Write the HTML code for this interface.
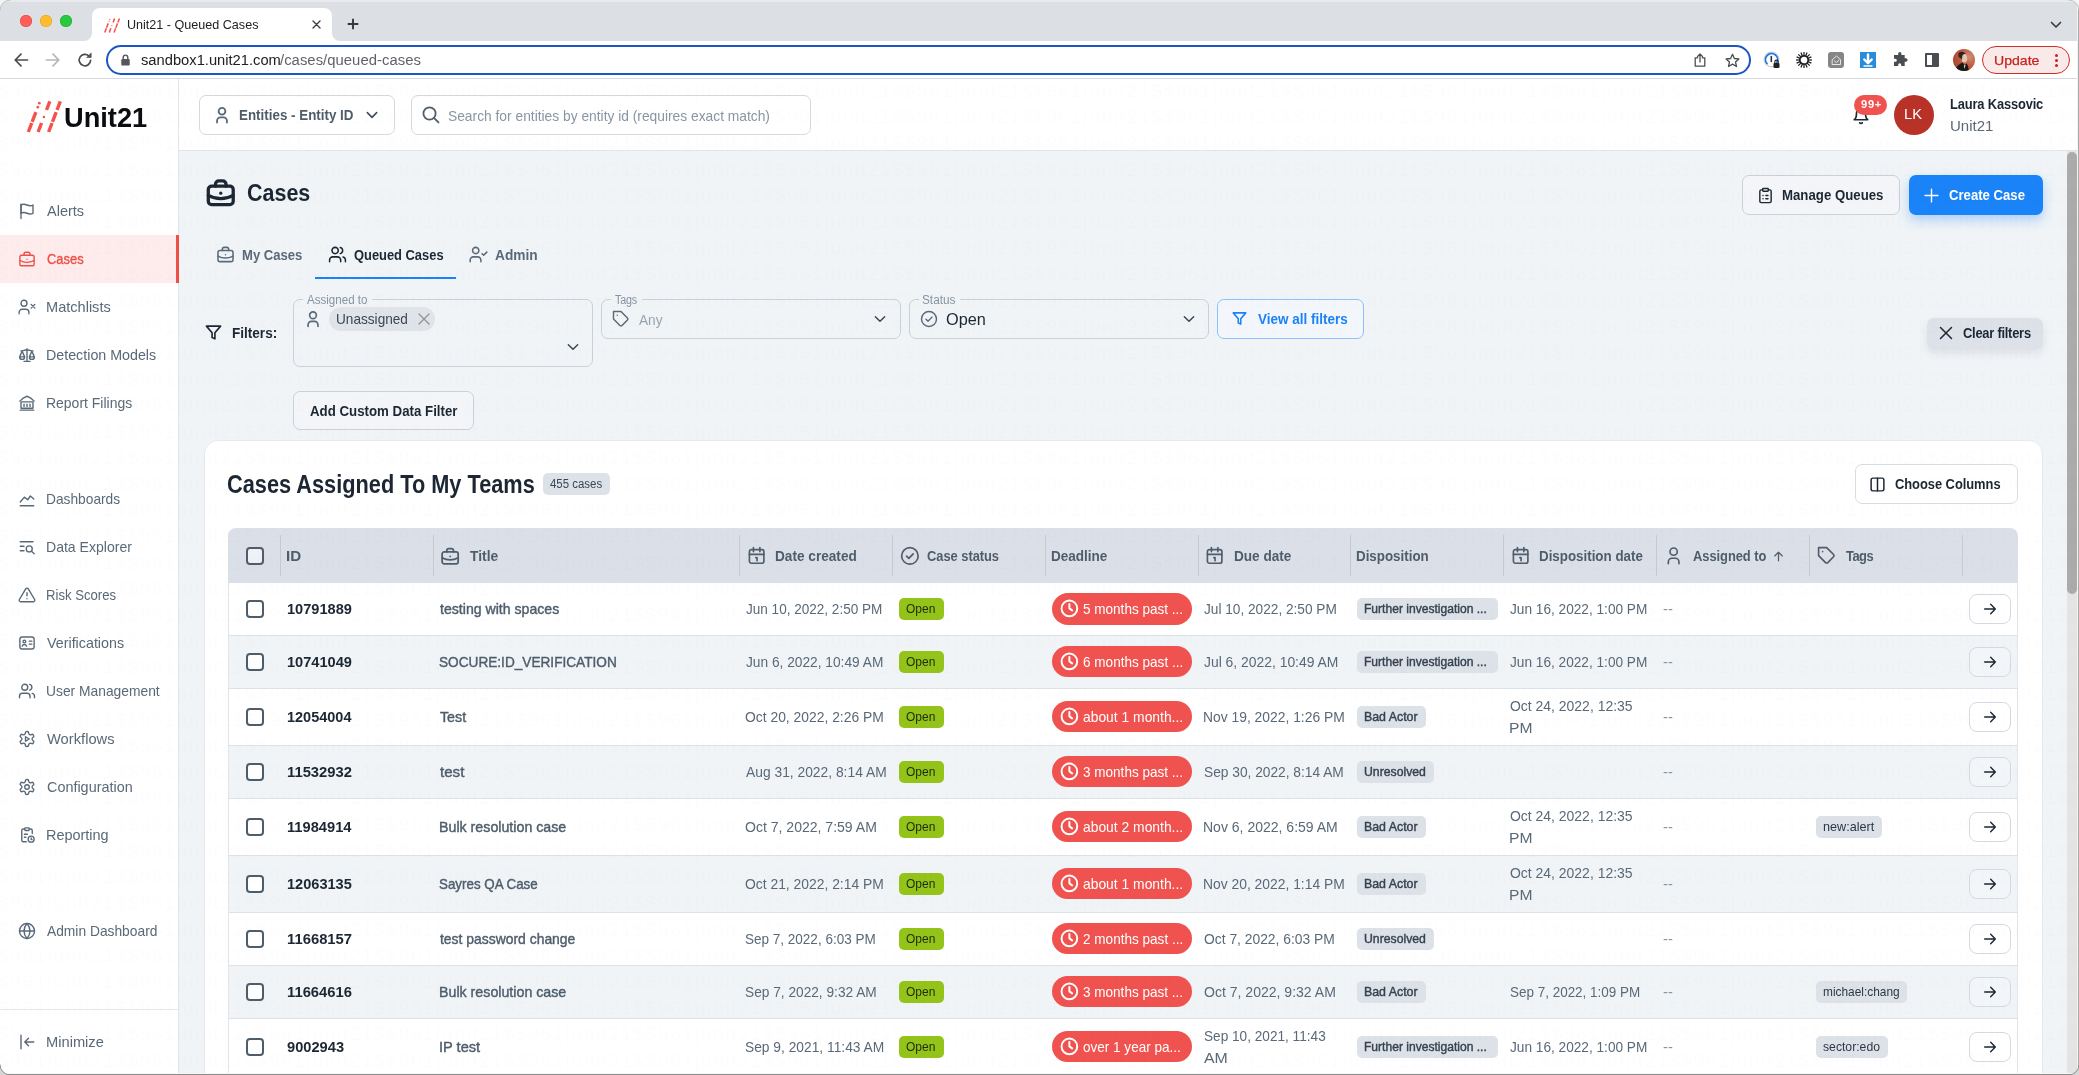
<!DOCTYPE html>
<html lang="en"><head><meta charset="utf-8"><title>Unit21 - Queued Cases</title>
<style>
html,body{margin:0;padding:0;}
body{width:2079px;height:1075px;overflow:hidden;position:relative;background:#f0f4f7;
 font-family:"Liberation Sans",sans-serif;-webkit-font-smoothing:antialiased;}
#root{position:absolute;left:0;top:0;width:2079px;height:1075px;overflow:hidden;will-change:transform;}
.t{position:absolute;white-space:nowrap;transform-origin:0 50%;}
svg{overflow:visible;}
.wm{position:absolute;left:-75.900px;top:78px;width:2300px;height:1000px;overflow:hidden;pointer-events:none;
 font-size:19px;line-height:26.200px;letter-spacing:1.662px;color:rgba(20,40,70,0.0105);white-space:nowrap;}
</style></head>
<body>
<div id="root">
<div id="app-bg" style="position:absolute;left:179px;top:151px;width:1900px;height:924px;background:#f0f4f7"></div>
<nav id="sidebar"><div style="position:absolute;left:0px;top:79px;width:178px;height:996px;background:#fff;"></div>
<div style="position:absolute;left:178px;top:79px;width:1px;height:996px;background:#e3e7ec;"></div>
<svg style="position:absolute;left:20px;top:96px;" width="50" height="40" viewBox="0 0 50 40" fill="none" stroke="#f4524b" stroke-width="3.4" stroke-linecap="butt" stroke-linejoin="round"><path d="M8.30 36.00L11.74 27.00"/><path d="M12.16 25.90L15.87 16.20"/><circle cx="17.79" cy="11.20" r="1.35" fill="#f4524b" stroke="none"/><circle cx="19.32" cy="7.20" r="1.35" fill="#f4524b" stroke="none"/><path d="M18.10 36.00L21.54 27.00"/><circle cx="23.88" cy="20.90" r="1.25" fill="#f4524b" stroke="none"/><path d="M26.52 14.00L29.80 5.40"/><path d="M28.60 36.00L32.04 27.00"/><path d="M32.46 25.90L36.17 16.20"/><path d="M37.02 14.00L40.30 5.40"/></svg>
<span class="t" id="t1" style="left:64.27px;top:98.60px;font-size:27px;line-height:38px;font-weight:700;color:#0b0d10;letter-spacing:0.000px;transform:scaleX(1.0080);">Unit21</span>
<svg style="position:absolute;left:18.3px;top:201.8px;" width="18" height="18" viewBox="0 0 24 24" fill="none" stroke="#5a6978" stroke-width="1.85" stroke-linecap="round" stroke-linejoin="round"><path d="M4 15s1-1 4-1 5 2 8 2 4-1 4-1V4s-1 1-4 1-5-2-8-2-4 1-4 1z"/><path d="M4 22V3"/></svg>
<span class="t" id="t2" style="left:47.47px;top:200.30px;font-size:15px;line-height:21px;font-weight:400;color:#5a6978;letter-spacing:0.000px;transform:scaleX(0.9663);">Alerts</span>
<div style="position:absolute;left:0px;top:235px;width:176px;height:47.5px;background:#fdeceb;"></div>
<div style="position:absolute;left:176px;top:235px;width:3px;height:47.5px;background:#ee4f47;"></div>
<svg style="position:absolute;left:18.3px;top:249.8px;" width="18" height="18" viewBox="0 0 24 24" fill="none" stroke="#ee4f47" stroke-width="1.85" stroke-linecap="round" stroke-linejoin="round"><rect x="2.5" y="7" width="19" height="14" rx="2.5"/><path d="M16 7V5.5A2.5 2.5 0 0 0 13.500 3h-3A2.5 2.500 0 0 0 8 5.500V7"/><path d="M2.500 14c3 1.700 6.200 2.500 9.500 2.500s6.500-.8 9.500-2.500"/><path d="M12 12.300h.01"/></svg>
<span class="t" id="t3" style="left:46.84px;top:248.30px;font-size:15px;line-height:21px;font-weight:400;color:#ee4f47;letter-spacing:0.000px;transform:scaleX(0.8611);-webkit-text-stroke:0.350px #ee4f47;">Cases</span>
<svg style="position:absolute;left:18.3px;top:297.8px;" width="18" height="18" viewBox="0 0 24 24" fill="none" stroke="#5a6978" stroke-width="1.85" stroke-linecap="round" stroke-linejoin="round"><path d="M14.500 21v-2a4 4 0 0 0-4-4h-5a4 4 0 0 0-4 4v2"/><circle cx="8" cy="7" r="4"/><path d="M17.500 8.500l5 5M22.500 8.500l-5 5"/></svg>
<span class="t" id="t4" style="left:46.31px;top:296.30px;font-size:15px;line-height:21px;font-weight:400;color:#5a6978;letter-spacing:0.000px;transform:scaleX(0.9705);">Matchlists</span>
<svg style="position:absolute;left:18.3px;top:345.8px;" width="18" height="18" viewBox="0 0 24 24" fill="none" stroke="#5a6978" stroke-width="1.85" stroke-linecap="round" stroke-linejoin="round"><path d="M12 3.500v17M8 20.500h8M4 6.500c3 0 5-1.500 8-1.500s5 1.500 8 1.500"/><path d="M5.500 7l-3.300 7.500h6.600zM2.200 14.500a3.300 3.300 0 0 0 6.600 0"/><path d="M18.500 7l-3.300 7.500h6.600zM15.200 14.500a3.300 3.300 0 0 0 6.600 0"/></svg>
<span class="t" id="t5" style="left:46.33px;top:344.30px;font-size:15px;line-height:21px;font-weight:400;color:#5a6978;letter-spacing:0.000px;transform:scaleX(0.9506);">Detection Models</span>
<svg style="position:absolute;left:18.3px;top:393.8px;" width="18" height="18" viewBox="0 0 24 24" fill="none" stroke="#5a6978" stroke-width="1.85" stroke-linecap="round" stroke-linejoin="round"><path d="M2.500 9.500C5 6.500 8.500 4 12 3c3.500 1 7 3.500 9.500 6.500"/><path d="M3 21.500h18"/><rect x="4" y="10.500" width="16" height="8.500" rx="0.500"/><path d="M8 13.500v3M12 13.500v3M16 13.500v3"/></svg>
<span class="t" id="t6" style="left:46.35px;top:392.30px;font-size:15px;line-height:21px;font-weight:400;color:#5a6978;letter-spacing:0.000px;transform:scaleX(0.9309);">Report Filings</span>
<svg style="position:absolute;left:18.3px;top:489.8px;" width="18" height="18" viewBox="0 0 24 24" fill="none" stroke="#5a6978" stroke-width="1.85" stroke-linecap="round" stroke-linejoin="round"><path d="M3 21h18"/><path d="M3 16l5.500-6.500 4.500 3.500 3.500-5 4.500 4"/></svg>
<span class="t" id="t7" style="left:46.37px;top:488.30px;font-size:15px;line-height:21px;font-weight:400;color:#5a6978;letter-spacing:0.000px;transform:scaleX(0.9164);">Dashboards</span>
<svg style="position:absolute;left:18.3px;top:537.8px;" width="18" height="18" viewBox="0 0 24 24" fill="none" stroke="#5a6978" stroke-width="1.85" stroke-linecap="round" stroke-linejoin="round"><path d="M3 5h17M3 11h5M3 17h5"/><circle cx="15" cy="14.500" r="4"/><path d="M18 17.500l3.500 3.500"/></svg>
<span class="t" id="t8" style="left:46.35px;top:536.30px;font-size:15px;line-height:21px;font-weight:400;color:#5a6978;letter-spacing:0.000px;transform:scaleX(0.9364);">Data Explorer</span>
<svg style="position:absolute;left:18.3px;top:585.8px;" width="18" height="18" viewBox="0 0 24 24" fill="none" stroke="#5a6978" stroke-width="1.85" stroke-linecap="round" stroke-linejoin="round"><path d="M10.290 3.860L1.820 18a2 2 0 0 0 1.710 3h16.940a2 2 0 0 0 1.710-3L13.710 3.860a2 2 0 0 0-3.420 0z"/><path d="M12 9v4M12 17h.01"/></svg>
<span class="t" id="t9" style="left:46.42px;top:584.30px;font-size:15px;line-height:21px;font-weight:400;color:#5a6978;letter-spacing:0.000px;transform:scaleX(0.8753);">Risk Scores</span>
<svg style="position:absolute;left:18.3px;top:633.8px;" width="18" height="18" viewBox="0 0 24 24" fill="none" stroke="#5a6978" stroke-width="1.85" stroke-linecap="round" stroke-linejoin="round"><rect x="2.500" y="4" width="19" height="16" rx="3"/><circle cx="8.500" cy="10" r="1.800"/><path d="M5.500 16.200c.6-1.500 1.700-2.200 3-2.200s2.400.7 3 2.200M15 9.500h3.500M15 13.500h3.500"/></svg>
<span class="t" id="t10" style="left:47.44px;top:632.30px;font-size:15px;line-height:21px;font-weight:400;color:#5a6978;letter-spacing:0.000px;transform:scaleX(0.9531);">Verifications</span>
<svg style="position:absolute;left:18.3px;top:681.8px;" width="18" height="18" viewBox="0 0 24 24" fill="none" stroke="#5a6978" stroke-width="1.85" stroke-linecap="round" stroke-linejoin="round"><path d="M16 21v-2a4 4 0 0 0-4-4H6a4 4 0 0 0-4 4v2"/><circle cx="9" cy="7" r="4"/><path d="M22 21v-2a4 4 0 0 0-3-3.870M15.500 3.130a4 4 0 0 1 0 7.750"/></svg>
<span class="t" id="t11" style="left:46.43px;top:680.30px;font-size:15px;line-height:21px;font-weight:400;color:#5a6978;letter-spacing:0.000px;transform:scaleX(0.9211);">User Management</span>
<svg style="position:absolute;left:18.3px;top:729.8px;" width="18" height="18" viewBox="0 0 24 24" fill="none" stroke="#5a6978" stroke-width="1.85" stroke-linecap="round" stroke-linejoin="round"><path d="M12.220 2h-.44a2 2 0 0 0-2 2v.18a2 2 0 0 1-1 1.730l-.43.250a2 2 0 0 1-2 0l-.15-.080a2 2 0 0 0-2.730.730l-.22.380a2 2 0 0 0 .73 2.730l.15.100a2 2 0 0 1 1 1.720v.510a2 2 0 0 1-1 1.740l-.15.090a2 2 0 0 0-.73 2.730l.22.380a2 2 0 0 0 2.730.730l.15-.080a2 2 0 0 1 2 0l.43.250a2 2 0 0 1 1 1.730V20a2 2 0 0 0 2 2h.44a2 2 0 0 0 2-2v-.180a2 2 0 0 1 1-1.730l.43-.250a2 2 0 0 1 2 0l.15.080a2 2 0 0 0 2.730-.730l.22-.390a2 2 0 0 0-.73-2.730l-.15-.080a2 2 0 0 1-1-1.740v-.500a2 2 0 0 1 1-1.740l.15-.090a2 2 0 0 0 .73-2.730l-.22-.380a2 2 0 0 0-2.730-.730l-.15.080a2 2 0 0 1-2 0l-.43-.250a2 2 0 0 1-1-1.730V4a2 2 0 0 0-2-2z"/><path d="M10 9l5 3-5 3z"/></svg>
<span class="t" id="t12" style="left:47.44px;top:728.30px;font-size:15px;line-height:21px;font-weight:400;color:#5a6978;letter-spacing:0.000px;transform:scaleX(0.9810);">Workflows</span>
<svg style="position:absolute;left:18.3px;top:777.8px;" width="18" height="18" viewBox="0 0 24 24" fill="none" stroke="#5a6978" stroke-width="1.85" stroke-linecap="round" stroke-linejoin="round"><path d="M12.220 2h-.44a2 2 0 0 0-2 2v.18a2 2 0 0 1-1 1.730l-.43.250a2 2 0 0 1-2 0l-.15-.080a2 2 0 0 0-2.730.730l-.22.380a2 2 0 0 0 .73 2.730l.15.100a2 2 0 0 1 1 1.720v.510a2 2 0 0 1-1 1.740l-.15.090a2 2 0 0 0-.73 2.730l.22.380a2 2 0 0 0 2.730.730l.15-.080a2 2 0 0 1 2 0l.43.250a2 2 0 0 1 1 1.730V20a2 2 0 0 0 2 2h.44a2 2 0 0 0 2-2v-.180a2 2 0 0 1 1-1.730l.43-.250a2 2 0 0 1 2 0l.15.080a2 2 0 0 0 2.730-.730l.22-.390a2 2 0 0 0-.73-2.730l-.15-.080a2 2 0 0 1-1-1.740v-.500a2 2 0 0 1 1-1.740l.15-.090a2 2 0 0 0 .73-2.730l-.22-.380a2 2 0 0 0-2.730-.730l-.15.080a2 2 0 0 1-2 0l-.43-.250a2 2 0 0 1-1-1.730V4a2 2 0 0 0-2-2z"/><circle cx="12" cy="12" r="3"/></svg>
<span class="t" id="t13" style="left:46.77px;top:776.30px;font-size:15px;line-height:21px;font-weight:400;color:#5a6978;letter-spacing:0.000px;transform:scaleX(0.9600);">Configuration</span>
<svg style="position:absolute;left:18.3px;top:825.8px;" width="18" height="18" viewBox="0 0 24 24" fill="none" stroke="#5a6978" stroke-width="1.85" stroke-linecap="round" stroke-linejoin="round"><path d="M9 4H7a2 2 0 0 0-2 2v13a2 2 0 0 0 2 2h4"/><path d="M15 4h2a2 2 0 0 1 2 2v4"/><rect x="9" y="2.500" width="6" height="3.500" rx="1"/><path d="M8.500 11h4M8.500 15h2"/><circle cx="17.500" cy="17.500" r="4"/><path d="M17.500 15.800v1.700l1.200.8"/></svg>
<span class="t" id="t14" style="left:46.32px;top:824.30px;font-size:15px;line-height:21px;font-weight:400;color:#5a6978;letter-spacing:0.000px;transform:scaleX(0.9626);">Reporting</span>
<svg style="position:absolute;left:18.3px;top:921.8px;" width="18" height="18" viewBox="0 0 24 24" fill="none" stroke="#5a6978" stroke-width="1.85" stroke-linecap="round" stroke-linejoin="round"><circle cx="12" cy="12" r="10"/><path d="M2 12h20"/><path d="M12 2a15.300 15.300 0 0 1 4 10 15.300 15.300 0 0 1-4 10 15.300 15.300 0 0 1-4-10 15.300 15.300 0 0 1 4-10z"/></svg>
<span class="t" id="t15" style="left:47.47px;top:920.30px;font-size:15px;line-height:21px;font-weight:400;color:#5a6978;letter-spacing:0.000px;transform:scaleX(0.9195);">Admin Dashboard</span>
<div style="position:absolute;left:0px;top:1009px;width:178px;height:1px;background:#e3e7ec;"></div>
<svg style="position:absolute;left:18.3px;top:1033.3px;" width="18" height="18" viewBox="0 0 24 24" fill="none" stroke="#5a6978" stroke-width="1.85" stroke-linecap="round" stroke-linejoin="round"><path d="M4 3v18M21 12H9M14 7l-5 5 5 5"/></svg>
<span class="t" id="t16" style="left:46.30px;top:1031.30px;font-size:15px;line-height:21px;font-weight:400;color:#5a6978;letter-spacing:0.000px;transform:scaleX(0.9775);">Minimize</span></nav>
<header id="topbar"><div style="position:absolute;left:179px;top:79px;width:1900px;height:71px;background:#fff;"></div>
<div style="position:absolute;left:179px;top:150px;width:1900px;height:1px;background:#e0e5eb;"></div>
<div style="position:absolute;left:199px;top:95px;width:195.5px;height:39.5px;box-sizing:border-box;border:1px solid #d3d9e0;border-radius:7px;background:#fff;"></div>
<svg style="position:absolute;left:213px;top:106px;" width="18" height="18" viewBox="0 0 24 24" fill="none" stroke="#5a6978" stroke-width="2.4" stroke-linecap="round" stroke-linejoin="round"><circle cx="12" cy="7" r="4.500"/><path d="M5.400 22v-2.200a4.600 4.600 0 0 1 4.600-4.600h4a4.600 4.600 0 0 1 4.600 4.600V22"/></svg>
<span class="t" id="t17" style="left:239.11px;top:104.00px;font-size:15px;line-height:21px;font-weight:700;color:#4f5d6b;letter-spacing:0.000px;transform:scaleX(0.8918);">Entities - Entity ID</span>
<svg style="position:absolute;left:363.9px;top:106.7px;" width="16" height="16" viewBox="0 0 24 24" fill="none" stroke="#3e4a57" stroke-width="2.3" stroke-linecap="round" stroke-linejoin="round"><path d="M5 8.500l7 7 7-7"/></svg>
<div style="position:absolute;left:411px;top:95px;width:399.5px;height:39.5px;box-sizing:border-box;border:1px solid #d3d9e0;border-radius:7px;background:#fff;"></div>
<svg style="position:absolute;left:421px;top:105.2px;" width="19.5" height="19.5" viewBox="0 0 24 24" fill="none" stroke="#4f5d6b" stroke-width="2.2" stroke-linecap="round" stroke-linejoin="round"><circle cx="10.500" cy="10.500" r="7.500"/><path d="M21.500 21.500l-5.600-5.600"/></svg>
<span class="t" id="t18" style="left:448.37px;top:105.00px;font-size:15px;line-height:21px;font-weight:400;color:#8996a5;letter-spacing:0.000px;transform:scaleX(0.9195);">Search for entities by entity id (requires exact match)</span>
<svg style="position:absolute;left:1851.9px;top:107.25px;" width="18" height="18" viewBox="0 0 24 24" fill="none" stroke="#1c2733" stroke-width="2.2" stroke-linecap="round" stroke-linejoin="round"><path d="M18 8A6 6 0 0 0 6 8c0 7-3 9-3 9h18s-3-2-3-9"/><path d="M13.730 21a2 2 0 0 1-3.460 0"/></svg>
<div style="position:absolute;left:1854px;top:95px;width:33px;height:20px;border-radius:10px;background:#f0534f;"></div>
<span class="t" id="t19" style="left:1860.81px;top:96.70px;font-size:10.5px;line-height:15px;font-weight:700;color:#fff;letter-spacing:0.687px;transform:scaleX(1.0600);">99+</span>
<div style="position:absolute;left:1894px;top:95px;width:40px;height:40px;border-radius:50%;background:#b83227;"></div>
<span class="t" id="t20" style="left:1904.40px;top:103.00px;font-size:15.5px;line-height:22px;font-weight:400;color:#fff;letter-spacing:0.000px;transform:scaleX(0.9473);">LK</span>
<span class="t" id="t21" style="left:1949.84px;top:93.00px;font-size:15px;line-height:21px;font-weight:700;color:#1c2733;letter-spacing:-0.190px;transform:scaleX(0.8600);">Laura Kassovic</span>
<span class="t" id="t22" style="left:1949.54px;top:115.00px;font-size:15px;line-height:21px;font-weight:400;color:#5a6978;letter-spacing:0.000px;transform:scaleX(1.0007);">Unit21</span></header>
<main id="content"><svg style="position:absolute;left:205px;top:176.5px;" width="31.5" height="31.5" viewBox="0 0 24 24" fill="none" stroke="#1c2733" stroke-width="2.5" stroke-linecap="round" stroke-linejoin="round"><rect x="2.5" y="7" width="19" height="14" rx="2.5"/><path d="M16 7V5.5A2.5 2.5 0 0 0 13.500 3h-3A2.5 2.500 0 0 0 8 5.500V7"/><path d="M2.500 14c3 1.700 6.200 2.500 9.500 2.500s6.500-.8 9.500-2.500"/><path d="M12 12.300h.01"/></svg>
<span class="t" id="t23" style="left:246.62px;top:176.50px;font-size:23.5px;line-height:33px;font-weight:700;color:#1c2733;letter-spacing:0.000px;transform:scaleX(0.9135);">Cases</span>
<svg style="position:absolute;left:215.5px;top:244.8px;" width="19" height="19" viewBox="0 0 24 24" fill="none" stroke="#5a6978" stroke-width="1.9" stroke-linecap="round" stroke-linejoin="round"><rect x="2.5" y="7" width="19" height="14" rx="2.5"/><path d="M16 7V5.5A2.5 2.5 0 0 0 13.500 3h-3A2.5 2.500 0 0 0 8 5.500V7"/><path d="M2.500 14c3 1.700 6.200 2.500 9.500 2.500s6.500-.8 9.500-2.500"/><path d="M12 12.300h.01"/></svg>
<span class="t" id="t24" style="left:242.12px;top:244.00px;font-size:15px;line-height:21px;font-weight:700;color:#5a6978;letter-spacing:0.000px;transform:scaleX(0.8728);">My Cases</span>
<svg style="position:absolute;left:327.5px;top:244.8px;" width="19" height="19" viewBox="0 0 24 24" fill="none" stroke="#1c2733" stroke-width="1.9" stroke-linecap="round" stroke-linejoin="round"><path d="M16 21v-2a4 4 0 0 0-4-4H6a4 4 0 0 0-4 4v2"/><circle cx="9" cy="7" r="4"/><path d="M22 21v-2a4 4 0 0 0-3-3.870M15.500 3.130a4 4 0 0 1 0 7.750"/></svg>
<span class="t" id="t25" style="left:353.97px;top:244.00px;font-size:15px;line-height:21px;font-weight:700;color:#1c2733;letter-spacing:-0.007px;transform:scaleX(0.8600);">Queued Cases</span>
<svg style="position:absolute;left:468.5px;top:244.8px;" width="19" height="19" viewBox="0 0 24 24" fill="none" stroke="#5a6978" stroke-width="1.9" stroke-linecap="round" stroke-linejoin="round"><path d="M15 21v-2a4 4 0 0 0-4-4H5.500a4 4 0 0 0-4 4v2"/><circle cx="8.500" cy="7" r="4"/><path d="M16.500 11l2 2 4-4"/></svg>
<span class="t" id="t26" style="left:495.16px;top:244.00px;font-size:15px;line-height:21px;font-weight:700;color:#5a6978;letter-spacing:0.000px;transform:scaleX(0.9147);">Admin</span>
<div style="position:absolute;left:314.5px;top:276.7px;width:141px;height:2.2px;background:#1a83f7;"></div>
<div style="position:absolute;left:1742px;top:175px;width:158px;height:39.5px;box-sizing:border-box;border:1px solid #ccd1d8;border-radius:7px;background:#f3f5f8;"></div>
<svg style="position:absolute;left:1756.5px;top:186.5px;" width="17" height="17" viewBox="0 0 24 24" fill="none" stroke="#1c2733" stroke-width="2" stroke-linecap="round" stroke-linejoin="round"><path d="M16 4h2a2 2 0 0 1 2 2v14a2 2 0 0 1-2 2H6a2 2 0 0 1-2-2V6a2 2 0 0 1 2-2h2"/><rect x="8" y="2" width="8" height="4" rx="1"/><path d="M8.500 12h.01M12.500 12h3M8.500 16.500h.01M12.500 16.500h3"/></svg>
<span class="t" id="t27" style="left:1782.12px;top:184.00px;font-size:15px;line-height:21px;font-weight:700;color:#1c2733;letter-spacing:0.000px;transform:scaleX(0.8816);">Manage Queues</span>
<div style="position:absolute;left:1909px;top:175px;width:133.5px;height:39.5px;border-radius:7px;background:#1a83f7;box-shadow:0 5px 12px rgba(26,131,247,.32);"></div>
<svg style="position:absolute;left:1923px;top:186.5px;" width="17" height="17" viewBox="0 0 24 24" fill="none" stroke="#fff" stroke-width="2" stroke-linecap="round" stroke-linejoin="round"><path d="M12 3v18M3 12h18"/></svg>
<span class="t" id="t28" style="left:1949.46px;top:184.00px;font-size:15px;line-height:21px;font-weight:700;color:#fff;letter-spacing:0.000px;transform:scaleX(0.8763);">Create Case</span>
<svg style="position:absolute;left:205px;top:324px;" width="17" height="17" viewBox="0 0 24 24" fill="none" stroke="#1c2733" stroke-width="2.3" stroke-linecap="round" stroke-linejoin="round"><path d="M22 3H2l8 9.460V19l4 2v-8.540z"/></svg>
<span class="t" id="t29" style="left:232.09px;top:322.00px;font-size:15px;line-height:21px;font-weight:700;color:#1c2733;letter-spacing:0.000px;transform:scaleX(0.9039);">Filters:</span>
<div style="position:absolute;left:293px;top:299.3px;width:299.5px;height:68px;box-sizing:border-box;border:1px solid #ccd1d8;border-radius:7px;"></div><div style="position:absolute;left:302.5px;top:298.3px;width:69px;height:4px;background:#f0f4f7;"></div><span class="t" id="t30" style="left:306.98px;top:291.00px;font-size:12.5px;line-height:18px;font-weight:400;color:#8794a3;letter-spacing:0.000px;transform:scaleX(0.9262);">Assigned to</span>
<svg style="position:absolute;left:304px;top:309.8px;" width="18" height="18" viewBox="0 0 24 24" fill="none" stroke="#5a6978" stroke-width="2.2" stroke-linecap="round" stroke-linejoin="round"><circle cx="12" cy="7" r="4.500"/><path d="M5.400 22v-2.200a4.600 4.600 0 0 1 4.600-4.600h4a4.600 4.600 0 0 1 4.600 4.600V22"/></svg>
<div style="position:absolute;left:329px;top:307px;width:106px;height:23.5px;border-radius:12px;background:#e0e4e9;"></div>
<span class="t" id="t31" style="left:335.95px;top:308.00px;font-size:15px;line-height:21px;font-weight:400;color:#3b4754;letter-spacing:0.000px;transform:scaleX(0.9080);">Unassigned</span>
<svg style="position:absolute;left:417.5px;top:313px;" width="12" height="12" viewBox="0 0 12 12" fill="none" stroke="#8d9299" stroke-width="1.2" stroke-linecap="round" stroke-linejoin="round"><path d="M1 1l10 10M11 1L1 11"/></svg>
<svg style="position:absolute;left:565px;top:338.5px;" width="16" height="16" viewBox="0 0 24 24" fill="none" stroke="#3b4754" stroke-width="2.2" stroke-linecap="round" stroke-linejoin="round"><path d="M5 8.500l7 7 7-7"/></svg>
<div style="position:absolute;left:601px;top:299.3px;width:299.5px;height:40px;box-sizing:border-box;border:1px solid #ccd1d8;border-radius:7px;"></div><div style="position:absolute;left:611px;top:298.3px;width:30.5px;height:4px;background:#f0f4f7;"></div><span class="t" id="t32" style="left:615.26px;top:291.00px;font-size:12.5px;line-height:18px;font-weight:400;color:#8794a3;letter-spacing:-0.225px;transform:scaleX(0.8600);">Tags</span>
<svg style="position:absolute;left:612px;top:310px;" width="18" height="18" viewBox="0 0 24 24" fill="none" stroke="#5a6978" stroke-width="1.9" stroke-linecap="round" stroke-linejoin="round"><path d="M20.590 13.410l-7.170 7.170a2 2 0 0 1-2.830 0L2 12V2h10l8.590 8.590a2 2 0 0 1 0 2.820z"/><path d="M7 7h.01"/></svg>
<span class="t" id="t33" style="left:638.97px;top:308.50px;font-size:15.5px;line-height:22px;font-weight:400;color:#9aa5b1;letter-spacing:0.000px;transform:scaleX(0.8815);">Any</span>
<svg style="position:absolute;left:872.3px;top:310.8px;" width="16" height="16" viewBox="0 0 24 24" fill="none" stroke="#3b4754" stroke-width="2.2" stroke-linecap="round" stroke-linejoin="round"><path d="M5 8.500l7 7 7-7"/></svg>
<div style="position:absolute;left:909px;top:299.3px;width:299.5px;height:40px;box-sizing:border-box;border:1px solid #ccd1d8;border-radius:7px;"></div><div style="position:absolute;left:918.5px;top:298.3px;width:41.5px;height:4px;background:#f0f4f7;"></div><span class="t" id="t34" style="left:922.46px;top:291.00px;font-size:12.5px;line-height:18px;font-weight:400;color:#8794a3;letter-spacing:0.000px;transform:scaleX(0.9443);">Status</span>
<svg style="position:absolute;left:919.5px;top:309.5px;" width="18" height="18" viewBox="0 0 24 24" fill="none" stroke="#5a6978" stroke-width="1.9" stroke-linecap="round" stroke-linejoin="round"><circle cx="12" cy="12" r="10"/><path d="M8 12.300l2.700 2.700 5.300-5.500"/></svg>
<span class="t" id="t35" style="left:946.23px;top:308.50px;font-size:16px;line-height:22px;font-weight:400;color:#1c2733;letter-spacing:0.000px;transform:scaleX(1.0176);">Open</span>
<svg style="position:absolute;left:1181px;top:310.8px;" width="16" height="16" viewBox="0 0 24 24" fill="none" stroke="#3b4754" stroke-width="2.2" stroke-linecap="round" stroke-linejoin="round"><path d="M5 8.500l7 7 7-7"/></svg>
<div style="position:absolute;left:1217px;top:299.3px;width:146.5px;height:40px;box-sizing:border-box;border:1px solid #8ec2fb;border-radius:7px;background:#f3f6fa;"></div>
<svg style="position:absolute;left:1232px;top:311px;" width="15" height="15" viewBox="0 0 24 24" fill="none" stroke="#1a83f7" stroke-width="2.5" stroke-linecap="round" stroke-linejoin="round"><path d="M22 3H2l8 9.460V19l4 2v-8.540z"/></svg>
<span class="t" id="t36" style="left:1257.91px;top:308.00px;font-size:15px;line-height:21px;font-weight:700;color:#1a83f7;letter-spacing:0.000px;transform:scaleX(0.8984);">View all filters</span>
<div style="position:absolute;left:1927px;top:318px;width:115.7px;height:30.5px;border-radius:7px;background:#dde2e9;box-shadow:0 4px 9px rgba(40,50,70,.10);"></div>
<svg style="position:absolute;left:1939px;top:326px;" width="14" height="14" viewBox="0 0 14 14" fill="none" stroke="#1c2733" stroke-width="1.5" stroke-linecap="round" stroke-linejoin="round"><path d="M1.500 1.500l11 11M12.500 1.500l-11 11"/></svg>
<span class="t" id="t37" style="left:1963.47px;top:322.30px;font-size:15px;line-height:21px;font-weight:700;color:#1c2733;letter-spacing:-0.284px;transform:scaleX(0.8600);">Clear filters</span>
<div style="position:absolute;left:293px;top:391.4px;width:180.7px;height:39.1px;box-sizing:border-box;border:1px solid #ccd1d8;border-radius:7px;background:#f3f5f8;"></div>
<span class="t" id="t38" style="left:309.67px;top:400.30px;font-size:15px;line-height:21px;font-weight:700;color:#1c2733;letter-spacing:0.000px;transform:scaleX(0.8851);">Add Custom Data Filter</span>
<div style="position:absolute;left:2067px;top:151px;width:10px;height:924px;background:#e4e4e4;"></div>
<div style="position:absolute;left:2067px;top:151.5px;width:10px;height:442.3px;border-radius:5px;background:#ababab;"></div>
<section id="cases-table"><div style="position:absolute;left:204px;top:439.5px;width:1838.7px;height:700px;box-sizing:border-box;border:1px solid #e6eaef;border-radius:14px;background:#fff;"></div>
<span class="t" id="t39" style="left:227.11px;top:466.50px;font-size:25px;line-height:35px;font-weight:700;color:#1c2733;letter-spacing:0.000px;transform:scaleX(0.8699);">Cases Assigned To My Teams</span>
<div style="position:absolute;left:543px;top:473px;width:66.5px;height:21.5px;border-radius:5px;background:#dde2e9;"></div>
<span class="t" id="t40" style="left:550.24px;top:475.00px;font-size:12.5px;line-height:18px;font-weight:400;color:#3b4754;letter-spacing:0.000px;transform:scaleX(0.9156);">455 cases</span>
<div style="position:absolute;left:1855px;top:464px;width:162.5px;height:39.5px;box-sizing:border-box;border:1px solid #d8dde4;border-radius:7px;background:#fff;"></div>
<svg style="position:absolute;left:1869px;top:475.5px;" width="17" height="17" viewBox="0 0 24 24" fill="none" stroke="#1c2733" stroke-width="2.1" stroke-linecap="round" stroke-linejoin="round"><rect x="3" y="3" width="18" height="18" rx="2.500"/><path d="M12 3v18"/></svg>
<span class="t" id="t41" style="left:1895.47px;top:473.00px;font-size:15px;line-height:21px;font-weight:700;color:#1c2733;letter-spacing:-0.046px;transform:scaleX(0.8600);">Choose Columns</span>
<div style="position:absolute;left:228px;top:528px;width:1789.5px;height:54.5px;border-radius:8px 8px 0 0;background:#dbdfe8;"></div>
<div style="position:absolute;left:280px;top:534.5px;width:1px;height:41.5px;background:#c3cad4;"></div>
<div style="position:absolute;left:433px;top:534.5px;width:1px;height:41.5px;background:#c3cad4;"></div>
<div style="position:absolute;left:739px;top:534.5px;width:1px;height:41.5px;background:#c3cad4;"></div>
<div style="position:absolute;left:892px;top:534.5px;width:1px;height:41.5px;background:#c3cad4;"></div>
<div style="position:absolute;left:1045px;top:534.5px;width:1px;height:41.5px;background:#c3cad4;"></div>
<div style="position:absolute;left:1197.5px;top:534.5px;width:1px;height:41.5px;background:#c3cad4;"></div>
<div style="position:absolute;left:1350px;top:534.5px;width:1px;height:41.5px;background:#c3cad4;"></div>
<div style="position:absolute;left:1503px;top:534.5px;width:1px;height:41.5px;background:#c3cad4;"></div>
<div style="position:absolute;left:1656px;top:534.5px;width:1px;height:41.5px;background:#c3cad4;"></div>
<div style="position:absolute;left:1809px;top:534.5px;width:1px;height:41.5px;background:#c3cad4;"></div>
<div style="position:absolute;left:1962px;top:534.5px;width:1px;height:41.5px;background:#c3cad4;"></div>
<div style="position:absolute;left:246px;top:547px;width:18px;height:18px;box-sizing:border-box;border:2px solid #4f5d6b;border-radius:4px;background:#eef1f5;"></div>
<span class="t" id="t42" style="left:286.49px;top:544.70px;font-size:15px;line-height:21px;font-weight:700;color:#4f5d6b;letter-spacing:0.000px;transform:scaleX(1.0100);">ID</span>
<svg style="position:absolute;left:440.35px;top:545.55px;" width="20.3" height="20.3" viewBox="0 0 24 24" fill="none" stroke="#4f5d6b" stroke-width="2.05" stroke-linecap="round" stroke-linejoin="round"><rect x="2.5" y="7" width="19" height="14" rx="2.5"/><path d="M16 7V5.5A2.5 2.5 0 0 0 13.500 3h-3A2.5 2.500 0 0 0 8 5.500V7"/><path d="M2.500 14c3 1.700 6.200 2.500 9.500 2.500s6.500-.8 9.500-2.500"/><path d="M12 12.300h.01"/></svg>
<span class="t" id="t43" style="left:470.24px;top:544.70px;font-size:15px;line-height:21px;font-weight:700;color:#4f5d6b;letter-spacing:0.000px;transform:scaleX(0.9232);">Title</span>
<svg style="position:absolute;left:746.85px;top:546.05px;" width="19.3" height="19.3" viewBox="0 0 24 24" fill="none" stroke="#4f5d6b" stroke-width="2.05" stroke-linecap="round" stroke-linejoin="round"><rect x="3" y="4.500" width="18" height="17" rx="2.500"/><path d="M16 2v5M8 2v5M3 10.500h18"/><path d="M11 14.500h1.500v4"/></svg>
<span class="t" id="t44" style="left:775.09px;top:544.70px;font-size:15px;line-height:21px;font-weight:700;color:#4f5d6b;letter-spacing:0.000px;transform:scaleX(0.9085);">Date created</span>
<svg style="position:absolute;left:899.85px;top:545.8px;" width="19.8" height="19.8" viewBox="0 0 24 24" fill="none" stroke="#4f5d6b" stroke-width="2.05" stroke-linecap="round" stroke-linejoin="round"><circle cx="12" cy="12" r="10"/><path d="M8 12.300l2.700 2.700 5.300-5.500"/></svg>
<span class="t" id="t45" style="left:927.47px;top:544.70px;font-size:15px;line-height:21px;font-weight:700;color:#4f5d6b;letter-spacing:-0.043px;transform:scaleX(0.8600);">Case status</span>
<span class="t" id="t46" style="left:1051.10px;top:544.70px;font-size:15px;line-height:21px;font-weight:700;color:#4f5d6b;letter-spacing:0.000px;transform:scaleX(0.9014);">Deadline</span>
<svg style="position:absolute;left:1205.35px;top:546.05px;" width="19.3" height="19.3" viewBox="0 0 24 24" fill="none" stroke="#4f5d6b" stroke-width="2.05" stroke-linecap="round" stroke-linejoin="round"><rect x="3" y="4.500" width="18" height="17" rx="2.500"/><path d="M16 2v5M8 2v5M3 10.500h18"/><path d="M11 14.500h1.500v4"/></svg>
<span class="t" id="t47" style="left:1233.59px;top:544.70px;font-size:15px;line-height:21px;font-weight:700;color:#4f5d6b;letter-spacing:0.000px;transform:scaleX(0.9055);">Due date</span>
<span class="t" id="t48" style="left:1356.11px;top:544.70px;font-size:15px;line-height:21px;font-weight:700;color:#4f5d6b;letter-spacing:0.000px;transform:scaleX(0.8904);">Disposition</span>
<svg style="position:absolute;left:1510.85px;top:546.05px;" width="19.3" height="19.3" viewBox="0 0 24 24" fill="none" stroke="#4f5d6b" stroke-width="2.05" stroke-linecap="round" stroke-linejoin="round"><rect x="3" y="4.500" width="18" height="17" rx="2.500"/><path d="M16 2v5M8 2v5M3 10.500h18"/><path d="M11 14.500h1.500v4"/></svg>
<span class="t" id="t49" style="left:1538.61px;top:544.70px;font-size:15px;line-height:21px;font-weight:700;color:#4f5d6b;letter-spacing:0.000px;transform:scaleX(0.8900);">Disposition date</span>
<svg style="position:absolute;left:1664.35px;top:546.05px;" width="19.3" height="19.3" viewBox="0 0 24 24" fill="none" stroke="#4f5d6b" stroke-width="2.05" stroke-linecap="round" stroke-linejoin="round"><circle cx="12" cy="7" r="4.500"/><path d="M5.400 22v-2.200a4.600 4.600 0 0 1 4.600-4.600h4a4.600 4.600 0 0 1 4.600 4.600V22"/></svg>
<span class="t" id="t50" style="left:1692.68px;top:544.70px;font-size:15px;line-height:21px;font-weight:700;color:#4f5d6b;letter-spacing:-0.058px;transform:scaleX(0.8600);">Assigned to</span>
<svg style="position:absolute;left:1772px;top:549.5px;" width="13" height="13" viewBox="0 0 24 24" fill="none" stroke="#4f5d6b" stroke-width="2.3" stroke-linecap="round" stroke-linejoin="round"><path d="M12 20V4M5 11l7-7 7 7"/></svg>
<svg style="position:absolute;left:1817.35px;top:546.05px;" width="19.3" height="19.3" viewBox="0 0 24 24" fill="none" stroke="#4f5d6b" stroke-width="2.05" stroke-linecap="round" stroke-linejoin="round"><path d="M20.590 13.410l-7.170 7.170a2 2 0 0 1-2.830 0L2 12V2h10l8.590 8.590a2 2 0 0 1 0 2.820z"/><path d="M7 7h.01"/></svg>
<span class="t" id="t51" style="left:1845.86px;top:544.70px;font-size:15px;line-height:21px;font-weight:700;color:#4f5d6b;letter-spacing:-0.576px;transform:scaleX(0.8600);">Tags</span>
<div style="position:absolute;left:228px;top:582.5px;width:1789.5px;height:52.5px;box-sizing:border-box;background:#fff;border-left:1px solid #e1e6ec;border-right:1px solid #e1e6ec;"></div>
<div style="position:absolute;left:246px;top:599.75px;width:18px;height:18px;box-sizing:border-box;border:2px solid #4f5d6b;border-radius:4px;background:#fff;"></div>
<span class="t" id="t52" style="left:286.58px;top:598.05px;font-size:15px;line-height:21px;font-weight:700;color:#1c2733;letter-spacing:0.000px;transform:scaleX(0.9732);">10791889</span>
<span class="t" id="t53" style="left:439.79px;top:598.05px;font-size:15px;line-height:21px;font-weight:400;color:#4e5d6c;letter-spacing:0.000px;transform:scaleX(0.9407);-webkit-text-stroke:0.420px #4e5d6c;">testing with spaces</span>
<span class="t" id="t54" style="left:745.79px;top:598.05px;font-size:15px;line-height:21px;font-weight:400;color:#5a6978;letter-spacing:0.000px;transform:scaleX(0.9032);">Jun 10, 2022, 2:50 PM</span>
<div style="position:absolute;left:899px;top:598px;width:45px;height:22px;border-radius:5px;background:#94c31a;"></div>
<span class="t" id="t55" style="left:906.43px;top:600.05px;font-size:13px;line-height:18px;font-weight:400;color:#1f2d08;letter-spacing:0.000px;transform:scaleX(0.9225);">Open</span>
<div style="position:absolute;left:1052px;top:593px;width:140px;height:31.5px;border-radius:16px;background:#f0534f;"></div>
<svg style="position:absolute;left:1060.3px;top:599.35px;" width="18.8" height="18.8" viewBox="0 0 24 24" fill="none" stroke="#fff" stroke-width="2.5" stroke-linecap="round" stroke-linejoin="round"><circle cx="12" cy="12" r="10"/><path d="M12 6.500V12l3.500 2.500"/></svg>
<span class="t" id="t56" style="left:1083.46px;top:598.05px;font-size:15px;line-height:21px;font-weight:400;color:#fff;letter-spacing:0.000px;transform:scaleX(0.9025);">5 months past ...</span>
<span class="t" id="t57" style="left:1204.29px;top:598.05px;font-size:15px;line-height:21px;font-weight:400;color:#5a6978;letter-spacing:0.000px;transform:scaleX(0.9102);">Jul 10, 2022, 2:50 PM</span>
<div style="position:absolute;left:1357px;top:598px;width:140.5px;height:22px;border-radius:5px;background:#dde2e9;"></div>
<span class="t" id="t58" style="left:1364.31px;top:600.05px;font-size:13px;line-height:18px;font-weight:400;color:#36424f;letter-spacing:0.000px;transform:scaleX(0.9286);-webkit-text-stroke:0.420px #36424f;">Further investigation ...</span>
<span class="t" id="t59" style="left:1510.29px;top:598.05px;font-size:15px;line-height:21px;font-weight:400;color:#5a6978;letter-spacing:0.000px;transform:scaleX(0.9099);">Jun 16, 2022, 1:00 PM</span>
<span class="t" id="t60" style="left:1663.35px;top:598.05px;font-size:15px;line-height:21px;font-weight:400;color:#8794a3;letter-spacing:0.000px;transform:scaleX(0.9807);">--</span>
<div style="position:absolute;left:1969px;top:594.25px;width:41.5px;height:30px;box-sizing:border-box;border:1px solid #d5dae2;border-radius:8px;background:#fff;"></div>
<svg style="position:absolute;left:1982px;top:600.75px;" width="16" height="16" viewBox="0 0 24 24" fill="none" stroke="#1c2733" stroke-width="2.1" stroke-linecap="round" stroke-linejoin="round"><path d="M4 12h16M13 5l7 7-7 7"/></svg>
<div style="position:absolute;left:228px;top:635px;width:1789.5px;height:53px;box-sizing:border-box;background:#f0f4f7;border-left:1px solid #e1e6ec;border-right:1px solid #e1e6ec;border-top:1px solid #dde2e9;"></div>
<div style="position:absolute;left:246px;top:652.5px;width:18px;height:18px;box-sizing:border-box;border:2px solid #4f5d6b;border-radius:4px;background:#fff;"></div>
<span class="t" id="t61" style="left:286.58px;top:650.80px;font-size:15px;line-height:21px;font-weight:700;color:#1c2733;letter-spacing:0.000px;transform:scaleX(0.9732);">10741049</span>
<span class="t" id="t62" style="left:439.38px;top:650.80px;font-size:15px;line-height:21px;font-weight:400;color:#4e5d6c;letter-spacing:0.000px;transform:scaleX(0.9087);-webkit-text-stroke:0.420px #4e5d6c;">SOCURE:ID_VERIFICATION</span>
<span class="t" id="t63" style="left:745.79px;top:650.80px;font-size:15px;line-height:21px;font-weight:400;color:#5a6978;letter-spacing:0.000px;transform:scaleX(0.9148);">Jun 6, 2022, 10:49 AM</span>
<div style="position:absolute;left:899px;top:650.75px;width:45px;height:22px;border-radius:5px;background:#94c31a;"></div>
<span class="t" id="t64" style="left:906.43px;top:652.80px;font-size:13px;line-height:18px;font-weight:400;color:#1f2d08;letter-spacing:0.000px;transform:scaleX(0.9225);">Open</span>
<div style="position:absolute;left:1052px;top:645.75px;width:140px;height:31.5px;border-radius:16px;background:#f0534f;"></div>
<svg style="position:absolute;left:1060.3px;top:652.1px;" width="18.8" height="18.8" viewBox="0 0 24 24" fill="none" stroke="#fff" stroke-width="2.5" stroke-linecap="round" stroke-linejoin="round"><circle cx="12" cy="12" r="10"/><path d="M12 6.500V12l3.500 2.500"/></svg>
<span class="t" id="t65" style="left:1083.31px;top:650.80px;font-size:15px;line-height:21px;font-weight:400;color:#fff;letter-spacing:0.000px;transform:scaleX(0.9038);">6 months past ...</span>
<span class="t" id="t66" style="left:1204.28px;top:650.80px;font-size:15px;line-height:21px;font-weight:400;color:#5a6978;letter-spacing:0.000px;transform:scaleX(0.9259);">Jul 6, 2022, 10:49 AM</span>
<div style="position:absolute;left:1357px;top:650.75px;width:140.5px;height:22px;border-radius:5px;background:#dde2e9;"></div>
<span class="t" id="t67" style="left:1364.31px;top:652.80px;font-size:13px;line-height:18px;font-weight:400;color:#36424f;letter-spacing:0.000px;transform:scaleX(0.9286);-webkit-text-stroke:0.420px #36424f;">Further investigation ...</span>
<span class="t" id="t68" style="left:1510.29px;top:650.80px;font-size:15px;line-height:21px;font-weight:400;color:#5a6978;letter-spacing:0.000px;transform:scaleX(0.9099);">Jun 16, 2022, 1:00 PM</span>
<span class="t" id="t69" style="left:1663.35px;top:650.80px;font-size:15px;line-height:21px;font-weight:400;color:#8794a3;letter-spacing:0.000px;transform:scaleX(0.9807);">--</span>
<div style="position:absolute;left:1969px;top:647px;width:41.5px;height:30px;box-sizing:border-box;border:1px solid #d5dae2;border-radius:8px;background:rgba(255,255,255,0.18);"></div>
<svg style="position:absolute;left:1982px;top:653.5px;" width="16" height="16" viewBox="0 0 24 24" fill="none" stroke="#1c2733" stroke-width="2.1" stroke-linecap="round" stroke-linejoin="round"><path d="M4 12h16M13 5l7 7-7 7"/></svg>
<div style="position:absolute;left:228px;top:688px;width:1789.5px;height:57px;box-sizing:border-box;background:#fff;border-left:1px solid #e1e6ec;border-right:1px solid #e1e6ec;border-top:1px solid #dde2e9;"></div>
<div style="position:absolute;left:246px;top:707.5px;width:18px;height:18px;box-sizing:border-box;border:2px solid #4f5d6b;border-radius:4px;background:#fff;"></div>
<span class="t" id="t70" style="left:286.59px;top:705.80px;font-size:15px;line-height:21px;font-weight:700;color:#1c2733;letter-spacing:0.000px;transform:scaleX(0.9662);">12054004</span>
<span class="t" id="t71" style="left:439.68px;top:705.80px;font-size:15px;line-height:21px;font-weight:400;color:#4e5d6c;letter-spacing:0.000px;transform:scaleX(0.9494);-webkit-text-stroke:0.420px #4e5d6c;">Test</span>
<span class="t" id="t72" style="left:745.34px;top:705.80px;font-size:15px;line-height:21px;font-weight:400;color:#5a6978;letter-spacing:0.000px;transform:scaleX(0.9247);">Oct 20, 2022, 2:26 PM</span>
<div style="position:absolute;left:899px;top:705.75px;width:45px;height:22px;border-radius:5px;background:#94c31a;"></div>
<span class="t" id="t73" style="left:906.43px;top:707.80px;font-size:13px;line-height:18px;font-weight:400;color:#1f2d08;letter-spacing:0.000px;transform:scaleX(0.9225);">Open</span>
<div style="position:absolute;left:1052px;top:700.75px;width:140px;height:31.5px;border-radius:16px;background:#f0534f;"></div>
<svg style="position:absolute;left:1060.3px;top:707.1px;" width="18.8" height="18.8" viewBox="0 0 24 24" fill="none" stroke="#fff" stroke-width="2.5" stroke-linecap="round" stroke-linejoin="round"><circle cx="12" cy="12" r="10"/><path d="M12 6.500V12l3.500 2.500"/></svg>
<span class="t" id="t74" style="left:1083.41px;top:705.80px;font-size:15px;line-height:21px;font-weight:400;color:#fff;letter-spacing:0.000px;transform:scaleX(0.9239);">about 1 month...</span>
<span class="t" id="t75" style="left:1203.36px;top:705.80px;font-size:15px;line-height:21px;font-weight:400;color:#5a6978;letter-spacing:0.000px;transform:scaleX(0.9240);">Nov 19, 2022, 1:26 PM</span>
<div style="position:absolute;left:1357px;top:705.75px;width:68.5px;height:22px;border-radius:5px;background:#dde2e9;"></div>
<span class="t" id="t76" style="left:1364.29px;top:707.80px;font-size:13px;line-height:18px;font-weight:400;color:#36424f;letter-spacing:0.000px;transform:scaleX(0.9511);-webkit-text-stroke:0.420px #36424f;">Bad Actor</span>
<span class="t" id="t77" style="left:1509.84px;top:694.80px;font-size:15px;line-height:21px;font-weight:400;color:#5a6978;letter-spacing:0.000px;transform:scaleX(0.9300);">Oct 24, 2022, 12:35</span><span class="t" id="t78" style="left:1509.22px;top:716.80px;font-size:15px;line-height:21px;font-weight:400;color:#5a6978;letter-spacing:0.000px;transform:scaleX(1.0430);">PM</span>
<span class="t" id="t79" style="left:1663.35px;top:705.80px;font-size:15px;line-height:21px;font-weight:400;color:#8794a3;letter-spacing:0.000px;transform:scaleX(0.9807);">--</span>
<div style="position:absolute;left:1969px;top:702px;width:41.5px;height:30px;box-sizing:border-box;border:1px solid #d5dae2;border-radius:8px;background:#fff;"></div>
<svg style="position:absolute;left:1982px;top:708.5px;" width="16" height="16" viewBox="0 0 24 24" fill="none" stroke="#1c2733" stroke-width="2.1" stroke-linecap="round" stroke-linejoin="round"><path d="M4 12h16M13 5l7 7-7 7"/></svg>
<div style="position:absolute;left:228px;top:745px;width:1789.5px;height:53px;box-sizing:border-box;background:#f0f4f7;border-left:1px solid #e1e6ec;border-right:1px solid #e1e6ec;border-top:1px solid #dde2e9;"></div>
<div style="position:absolute;left:246px;top:762.5px;width:18px;height:18px;box-sizing:border-box;border:2px solid #4f5d6b;border-radius:4px;background:#fff;"></div>
<span class="t" id="t80" style="left:286.57px;top:760.80px;font-size:15px;line-height:21px;font-weight:700;color:#1c2733;letter-spacing:0.000px;transform:scaleX(0.9864);">11532932</span>
<span class="t" id="t81" style="left:439.77px;top:760.80px;font-size:15px;line-height:21px;font-weight:400;color:#4e5d6c;letter-spacing:0.000px;transform:scaleX(1.0063);-webkit-text-stroke:0.420px #4e5d6c;">test</span>
<span class="t" id="t82" style="left:745.97px;top:760.80px;font-size:15px;line-height:21px;font-weight:400;color:#5a6978;letter-spacing:0.000px;transform:scaleX(0.9216);">Aug 31, 2022, 8:14 AM</span>
<div style="position:absolute;left:899px;top:760.75px;width:45px;height:22px;border-radius:5px;background:#94c31a;"></div>
<span class="t" id="t83" style="left:906.43px;top:762.80px;font-size:13px;line-height:18px;font-weight:400;color:#1f2d08;letter-spacing:0.000px;transform:scaleX(0.9225);">Open</span>
<div style="position:absolute;left:1052px;top:755.75px;width:140px;height:31.5px;border-radius:16px;background:#f0534f;"></div>
<svg style="position:absolute;left:1060.3px;top:762.1px;" width="18.8" height="18.8" viewBox="0 0 24 24" fill="none" stroke="#fff" stroke-width="2.5" stroke-linecap="round" stroke-linejoin="round"><circle cx="12" cy="12" r="10"/><path d="M12 6.500V12l3.500 2.500"/></svg>
<span class="t" id="t84" style="left:1083.48px;top:760.80px;font-size:15px;line-height:21px;font-weight:400;color:#fff;letter-spacing:0.000px;transform:scaleX(0.9023);">3 months past ...</span>
<span class="t" id="t85" style="left:1203.88px;top:760.80px;font-size:15px;line-height:21px;font-weight:400;color:#5a6978;letter-spacing:0.000px;transform:scaleX(0.9156);">Sep 30, 2022, 8:14 AM</span>
<div style="position:absolute;left:1357px;top:760.75px;width:76.5px;height:22px;border-radius:5px;background:#dde2e9;"></div>
<span class="t" id="t86" style="left:1364.36px;top:762.80px;font-size:13px;line-height:18px;font-weight:400;color:#36424f;letter-spacing:0.000px;transform:scaleX(0.9417);-webkit-text-stroke:0.420px #36424f;">Unresolved</span>
<span class="t" id="t87" style="left:1663.35px;top:760.80px;font-size:15px;line-height:21px;font-weight:400;color:#8794a3;letter-spacing:0.000px;transform:scaleX(0.9807);">--</span>
<div style="position:absolute;left:1969px;top:757px;width:41.5px;height:30px;box-sizing:border-box;border:1px solid #d5dae2;border-radius:8px;background:rgba(255,255,255,0.18);"></div>
<svg style="position:absolute;left:1982px;top:763.5px;" width="16" height="16" viewBox="0 0 24 24" fill="none" stroke="#1c2733" stroke-width="2.1" stroke-linecap="round" stroke-linejoin="round"><path d="M4 12h16M13 5l7 7-7 7"/></svg>
<div style="position:absolute;left:228px;top:798px;width:1789.5px;height:57px;box-sizing:border-box;background:#fff;border-left:1px solid #e1e6ec;border-right:1px solid #e1e6ec;border-top:1px solid #dde2e9;"></div>
<div style="position:absolute;left:246px;top:817.5px;width:18px;height:18px;box-sizing:border-box;border:2px solid #4f5d6b;border-radius:4px;background:#fff;"></div>
<span class="t" id="t88" style="left:286.58px;top:815.80px;font-size:15px;line-height:21px;font-weight:700;color:#1c2733;letter-spacing:0.000px;transform:scaleX(0.9785);">11984914</span>
<span class="t" id="t89" style="left:438.83px;top:815.80px;font-size:15px;line-height:21px;font-weight:400;color:#4e5d6c;letter-spacing:0.000px;transform:scaleX(0.9482);-webkit-text-stroke:0.420px #4e5d6c;">Bulk resolution case</span>
<span class="t" id="t90" style="left:745.34px;top:815.80px;font-size:15px;line-height:21px;font-weight:400;color:#5a6978;letter-spacing:0.000px;transform:scaleX(0.9354);">Oct 7, 2022, 7:59 AM</span>
<div style="position:absolute;left:899px;top:815.75px;width:45px;height:22px;border-radius:5px;background:#94c31a;"></div>
<span class="t" id="t91" style="left:906.43px;top:817.80px;font-size:13px;line-height:18px;font-weight:400;color:#1f2d08;letter-spacing:0.000px;transform:scaleX(0.9225);">Open</span>
<div style="position:absolute;left:1052px;top:810.75px;width:140px;height:31.5px;border-radius:16px;background:#f0534f;"></div>
<svg style="position:absolute;left:1060.3px;top:817.1px;" width="18.8" height="18.8" viewBox="0 0 24 24" fill="none" stroke="#fff" stroke-width="2.5" stroke-linecap="round" stroke-linejoin="round"><circle cx="12" cy="12" r="10"/><path d="M12 6.500V12l3.500 2.500"/></svg>
<span class="t" id="t92" style="left:1083.41px;top:815.80px;font-size:15px;line-height:21px;font-weight:400;color:#fff;letter-spacing:0.000px;transform:scaleX(0.9239);">about 2 month...</span>
<span class="t" id="t93" style="left:1203.35px;top:815.80px;font-size:15px;line-height:21px;font-weight:400;color:#5a6978;letter-spacing:0.000px;transform:scaleX(0.9344);">Nov 6, 2022, 6:59 AM</span>
<div style="position:absolute;left:1357px;top:815.75px;width:68.5px;height:22px;border-radius:5px;background:#dde2e9;"></div>
<span class="t" id="t94" style="left:1364.29px;top:817.80px;font-size:13px;line-height:18px;font-weight:400;color:#36424f;letter-spacing:0.000px;transform:scaleX(0.9511);-webkit-text-stroke:0.420px #36424f;">Bad Actor</span>
<span class="t" id="t95" style="left:1509.84px;top:804.80px;font-size:15px;line-height:21px;font-weight:400;color:#5a6978;letter-spacing:0.000px;transform:scaleX(0.9300);">Oct 24, 2022, 12:35</span><span class="t" id="t96" style="left:1509.22px;top:826.80px;font-size:15px;line-height:21px;font-weight:400;color:#5a6978;letter-spacing:0.000px;transform:scaleX(1.0430);">PM</span>
<span class="t" id="t97" style="left:1663.35px;top:815.80px;font-size:15px;line-height:21px;font-weight:400;color:#8794a3;letter-spacing:0.000px;transform:scaleX(0.9807);">--</span>
<div style="position:absolute;left:1816px;top:815.75px;width:65.7px;height:22px;border-radius:5px;background:#dde2e9;"></div>
<span class="t" id="t98" style="left:1822.86px;top:817.80px;font-size:13px;line-height:18px;font-weight:400;color:#2c3845;letter-spacing:0.000px;transform:scaleX(0.9712);">new:alert</span>
<div style="position:absolute;left:1969px;top:812px;width:41.5px;height:30px;box-sizing:border-box;border:1px solid #d5dae2;border-radius:8px;background:#fff;"></div>
<svg style="position:absolute;left:1982px;top:818.5px;" width="16" height="16" viewBox="0 0 24 24" fill="none" stroke="#1c2733" stroke-width="2.1" stroke-linecap="round" stroke-linejoin="round"><path d="M4 12h16M13 5l7 7-7 7"/></svg>
<div style="position:absolute;left:228px;top:855px;width:1789.5px;height:57px;box-sizing:border-box;background:#f0f4f7;border-left:1px solid #e1e6ec;border-right:1px solid #e1e6ec;border-top:1px solid #dde2e9;"></div>
<div style="position:absolute;left:246px;top:874.5px;width:18px;height:18px;box-sizing:border-box;border:2px solid #4f5d6b;border-radius:4px;background:#fff;"></div>
<span class="t" id="t99" style="left:286.58px;top:872.80px;font-size:15px;line-height:21px;font-weight:700;color:#1c2733;letter-spacing:0.000px;transform:scaleX(0.9711);">12063135</span>
<span class="t" id="t100" style="left:439.39px;top:872.80px;font-size:15px;line-height:21px;font-weight:400;color:#4e5d6c;letter-spacing:0.000px;transform:scaleX(0.8901);-webkit-text-stroke:0.420px #4e5d6c;">Sayres QA Case</span>
<span class="t" id="t101" style="left:745.34px;top:872.80px;font-size:15px;line-height:21px;font-weight:400;color:#5a6978;letter-spacing:0.000px;transform:scaleX(0.9247);">Oct 21, 2022, 2:14 PM</span>
<div style="position:absolute;left:899px;top:872.75px;width:45px;height:22px;border-radius:5px;background:#94c31a;"></div>
<span class="t" id="t102" style="left:906.43px;top:874.80px;font-size:13px;line-height:18px;font-weight:400;color:#1f2d08;letter-spacing:0.000px;transform:scaleX(0.9225);">Open</span>
<div style="position:absolute;left:1052px;top:867.75px;width:140px;height:31.5px;border-radius:16px;background:#f0534f;"></div>
<svg style="position:absolute;left:1060.3px;top:874.1px;" width="18.8" height="18.8" viewBox="0 0 24 24" fill="none" stroke="#fff" stroke-width="2.5" stroke-linecap="round" stroke-linejoin="round"><circle cx="12" cy="12" r="10"/><path d="M12 6.500V12l3.500 2.500"/></svg>
<span class="t" id="t103" style="left:1083.41px;top:872.80px;font-size:15px;line-height:21px;font-weight:400;color:#fff;letter-spacing:0.000px;transform:scaleX(0.9239);">about 1 month...</span>
<span class="t" id="t104" style="left:1203.36px;top:872.80px;font-size:15px;line-height:21px;font-weight:400;color:#5a6978;letter-spacing:0.000px;transform:scaleX(0.9240);">Nov 20, 2022, 1:14 PM</span>
<div style="position:absolute;left:1357px;top:872.75px;width:68.5px;height:22px;border-radius:5px;background:#dde2e9;"></div>
<span class="t" id="t105" style="left:1364.29px;top:874.80px;font-size:13px;line-height:18px;font-weight:400;color:#36424f;letter-spacing:0.000px;transform:scaleX(0.9511);-webkit-text-stroke:0.420px #36424f;">Bad Actor</span>
<span class="t" id="t106" style="left:1509.84px;top:861.80px;font-size:15px;line-height:21px;font-weight:400;color:#5a6978;letter-spacing:0.000px;transform:scaleX(0.9300);">Oct 24, 2022, 12:35</span><span class="t" id="t107" style="left:1509.22px;top:883.80px;font-size:15px;line-height:21px;font-weight:400;color:#5a6978;letter-spacing:0.000px;transform:scaleX(1.0430);">PM</span>
<span class="t" id="t108" style="left:1663.35px;top:872.80px;font-size:15px;line-height:21px;font-weight:400;color:#8794a3;letter-spacing:0.000px;transform:scaleX(0.9807);">--</span>
<div style="position:absolute;left:1969px;top:869px;width:41.5px;height:30px;box-sizing:border-box;border:1px solid #d5dae2;border-radius:8px;background:rgba(255,255,255,0.18);"></div>
<svg style="position:absolute;left:1982px;top:875.5px;" width="16" height="16" viewBox="0 0 24 24" fill="none" stroke="#1c2733" stroke-width="2.1" stroke-linecap="round" stroke-linejoin="round"><path d="M4 12h16M13 5l7 7-7 7"/></svg>
<div style="position:absolute;left:228px;top:912px;width:1789.5px;height:53px;box-sizing:border-box;background:#fff;border-left:1px solid #e1e6ec;border-right:1px solid #e1e6ec;border-top:1px solid #dde2e9;"></div>
<div style="position:absolute;left:246px;top:929.5px;width:18px;height:18px;box-sizing:border-box;border:2px solid #4f5d6b;border-radius:4px;background:#fff;"></div>
<span class="t" id="t109" style="left:286.57px;top:927.80px;font-size:15px;line-height:21px;font-weight:700;color:#1c2733;letter-spacing:0.000px;transform:scaleX(0.9873);">11668157</span>
<span class="t" id="t110" style="left:439.79px;top:927.80px;font-size:15px;line-height:21px;font-weight:400;color:#4e5d6c;letter-spacing:0.000px;transform:scaleX(0.9274);-webkit-text-stroke:0.420px #4e5d6c;">test password change</span>
<span class="t" id="t111" style="left:745.39px;top:927.80px;font-size:15px;line-height:21px;font-weight:400;color:#5a6978;letter-spacing:0.000px;transform:scaleX(0.9009);">Sep 7, 2022, 6:03 PM</span>
<div style="position:absolute;left:899px;top:927.75px;width:45px;height:22px;border-radius:5px;background:#94c31a;"></div>
<span class="t" id="t112" style="left:906.43px;top:929.80px;font-size:13px;line-height:18px;font-weight:400;color:#1f2d08;letter-spacing:0.000px;transform:scaleX(0.9225);">Open</span>
<div style="position:absolute;left:1052px;top:922.75px;width:140px;height:31.5px;border-radius:16px;background:#f0534f;"></div>
<svg style="position:absolute;left:1060.3px;top:929.1px;" width="18.8" height="18.8" viewBox="0 0 24 24" fill="none" stroke="#fff" stroke-width="2.5" stroke-linecap="round" stroke-linejoin="round"><circle cx="12" cy="12" r="10"/><path d="M12 6.500V12l3.500 2.500"/></svg>
<span class="t" id="t113" style="left:1083.32px;top:927.80px;font-size:15px;line-height:21px;font-weight:400;color:#fff;letter-spacing:0.000px;transform:scaleX(0.9038);">2 months past ...</span>
<span class="t" id="t114" style="left:1203.84px;top:927.80px;font-size:15px;line-height:21px;font-weight:400;color:#5a6978;letter-spacing:0.000px;transform:scaleX(0.9227);">Oct 7, 2022, 6:03 PM</span>
<div style="position:absolute;left:1357px;top:927.75px;width:76.5px;height:22px;border-radius:5px;background:#dde2e9;"></div>
<span class="t" id="t115" style="left:1364.36px;top:929.80px;font-size:13px;line-height:18px;font-weight:400;color:#36424f;letter-spacing:0.000px;transform:scaleX(0.9417);-webkit-text-stroke:0.420px #36424f;">Unresolved</span>
<span class="t" id="t116" style="left:1663.35px;top:927.80px;font-size:15px;line-height:21px;font-weight:400;color:#8794a3;letter-spacing:0.000px;transform:scaleX(0.9807);">--</span>
<div style="position:absolute;left:1969px;top:924px;width:41.5px;height:30px;box-sizing:border-box;border:1px solid #d5dae2;border-radius:8px;background:#fff;"></div>
<svg style="position:absolute;left:1982px;top:930.5px;" width="16" height="16" viewBox="0 0 24 24" fill="none" stroke="#1c2733" stroke-width="2.1" stroke-linecap="round" stroke-linejoin="round"><path d="M4 12h16M13 5l7 7-7 7"/></svg>
<div style="position:absolute;left:228px;top:965px;width:1789.5px;height:53px;box-sizing:border-box;background:#f0f4f7;border-left:1px solid #e1e6ec;border-right:1px solid #e1e6ec;border-top:1px solid #dde2e9;"></div>
<div style="position:absolute;left:246px;top:982.5px;width:18px;height:18px;box-sizing:border-box;border:2px solid #4f5d6b;border-radius:4px;background:#fff;"></div>
<span class="t" id="t117" style="left:286.57px;top:980.80px;font-size:15px;line-height:21px;font-weight:700;color:#1c2733;letter-spacing:0.000px;transform:scaleX(0.9855);">11664616</span>
<span class="t" id="t118" style="left:438.83px;top:980.80px;font-size:15px;line-height:21px;font-weight:400;color:#4e5d6c;letter-spacing:0.000px;transform:scaleX(0.9482);-webkit-text-stroke:0.420px #4e5d6c;">Bulk resolution case</span>
<span class="t" id="t119" style="left:745.38px;top:980.80px;font-size:15px;line-height:21px;font-weight:400;color:#5a6978;letter-spacing:0.000px;transform:scaleX(0.9131);">Sep 7, 2022, 9:32 AM</span>
<div style="position:absolute;left:899px;top:980.75px;width:45px;height:22px;border-radius:5px;background:#94c31a;"></div>
<span class="t" id="t120" style="left:906.43px;top:982.80px;font-size:13px;line-height:18px;font-weight:400;color:#1f2d08;letter-spacing:0.000px;transform:scaleX(0.9225);">Open</span>
<div style="position:absolute;left:1052px;top:975.75px;width:140px;height:31.5px;border-radius:16px;background:#f0534f;"></div>
<svg style="position:absolute;left:1060.3px;top:982.1px;" width="18.8" height="18.8" viewBox="0 0 24 24" fill="none" stroke="#fff" stroke-width="2.5" stroke-linecap="round" stroke-linejoin="round"><circle cx="12" cy="12" r="10"/><path d="M12 6.500V12l3.500 2.500"/></svg>
<span class="t" id="t121" style="left:1083.48px;top:980.80px;font-size:15px;line-height:21px;font-weight:400;color:#fff;letter-spacing:0.000px;transform:scaleX(0.9023);">3 months past ...</span>
<span class="t" id="t122" style="left:1203.84px;top:980.80px;font-size:15px;line-height:21px;font-weight:400;color:#5a6978;letter-spacing:0.000px;transform:scaleX(0.9354);">Oct 7, 2022, 9:32 AM</span>
<div style="position:absolute;left:1357px;top:980.75px;width:68.5px;height:22px;border-radius:5px;background:#dde2e9;"></div>
<span class="t" id="t123" style="left:1364.29px;top:982.80px;font-size:13px;line-height:18px;font-weight:400;color:#36424f;letter-spacing:0.000px;transform:scaleX(0.9511);-webkit-text-stroke:0.420px #36424f;">Bad Actor</span>
<span class="t" id="t124" style="left:1509.89px;top:980.80px;font-size:15px;line-height:21px;font-weight:400;color:#5a6978;letter-spacing:0.000px;transform:scaleX(0.8974);">Sep 7, 2022, 1:09 PM</span>
<span class="t" id="t125" style="left:1663.35px;top:980.80px;font-size:15px;line-height:21px;font-weight:400;color:#8794a3;letter-spacing:0.000px;transform:scaleX(0.9807);">--</span>
<div style="position:absolute;left:1816px;top:980.75px;width:90.6px;height:22px;border-radius:5px;background:#dde2e9;"></div>
<span class="t" id="t126" style="left:1822.91px;top:982.80px;font-size:13px;line-height:18px;font-weight:400;color:#2c3845;letter-spacing:0.000px;transform:scaleX(0.9144);">michael:chang</span>
<div style="position:absolute;left:1969px;top:977px;width:41.5px;height:30px;box-sizing:border-box;border:1px solid #d5dae2;border-radius:8px;background:rgba(255,255,255,0.18);"></div>
<svg style="position:absolute;left:1982px;top:983.5px;" width="16" height="16" viewBox="0 0 24 24" fill="none" stroke="#1c2733" stroke-width="2.1" stroke-linecap="round" stroke-linejoin="round"><path d="M4 12h16M13 5l7 7-7 7"/></svg>
<div style="position:absolute;left:228px;top:1018px;width:1789.5px;height:58px;box-sizing:border-box;background:#fff;border-left:1px solid #e1e6ec;border-right:1px solid #e1e6ec;border-top:1px solid #dde2e9;"></div>
<div style="position:absolute;left:246px;top:1037.5px;width:18px;height:18px;box-sizing:border-box;border:2px solid #4f5d6b;border-radius:4px;background:#fff;"></div>
<span class="t" id="t127" style="left:286.99px;top:1035.80px;font-size:15px;line-height:21px;font-weight:700;color:#1c2733;letter-spacing:0.000px;transform:scaleX(0.9766);">9002943</span>
<span class="t" id="t128" style="left:438.65px;top:1035.80px;font-size:15px;line-height:21px;font-weight:400;color:#4e5d6c;letter-spacing:0.000px;transform:scaleX(0.9741);-webkit-text-stroke:0.420px #4e5d6c;">IP test</span>
<span class="t" id="t129" style="left:745.37px;top:1035.80px;font-size:15px;line-height:21px;font-weight:400;color:#5a6978;letter-spacing:0.000px;transform:scaleX(0.9191);">Sep 9, 2021, 11:43 AM</span>
<div style="position:absolute;left:899px;top:1035.75px;width:45px;height:22px;border-radius:5px;background:#94c31a;"></div>
<span class="t" id="t130" style="left:906.43px;top:1037.80px;font-size:13px;line-height:18px;font-weight:400;color:#1f2d08;letter-spacing:0.000px;transform:scaleX(0.9225);">Open</span>
<div style="position:absolute;left:1052px;top:1030.75px;width:140px;height:31.5px;border-radius:16px;background:#f0534f;"></div>
<svg style="position:absolute;left:1060.3px;top:1037.1px;" width="18.8" height="18.8" viewBox="0 0 24 24" fill="none" stroke="#fff" stroke-width="2.5" stroke-linecap="round" stroke-linejoin="round"><circle cx="12" cy="12" r="10"/><path d="M12 6.500V12l3.500 2.500"/></svg>
<span class="t" id="t131" style="left:1083.43px;top:1035.80px;font-size:15px;line-height:21px;font-weight:400;color:#fff;letter-spacing:0.000px;transform:scaleX(0.9022);">over 1 year pa...</span>
<span class="t" id="t132" style="left:1203.88px;top:1024.80px;font-size:15px;line-height:21px;font-weight:400;color:#5a6978;letter-spacing:0.000px;transform:scaleX(0.9082);">Sep 10, 2021, 11:43</span><span class="t" id="t133" style="left:1204.47px;top:1046.80px;font-size:15px;line-height:21px;font-weight:400;color:#5a6978;letter-spacing:0.000px;transform:scaleX(1.0593);">AM</span>
<div style="position:absolute;left:1357px;top:1035.75px;width:140.5px;height:22px;border-radius:5px;background:#dde2e9;"></div>
<span class="t" id="t134" style="left:1364.31px;top:1037.80px;font-size:13px;line-height:18px;font-weight:400;color:#36424f;letter-spacing:0.000px;transform:scaleX(0.9286);-webkit-text-stroke:0.420px #36424f;">Further investigation ...</span>
<span class="t" id="t135" style="left:1510.29px;top:1035.80px;font-size:15px;line-height:21px;font-weight:400;color:#5a6978;letter-spacing:0.000px;transform:scaleX(0.9099);">Jun 16, 2022, 1:00 PM</span>
<span class="t" id="t136" style="left:1663.35px;top:1035.80px;font-size:15px;line-height:21px;font-weight:400;color:#8794a3;letter-spacing:0.000px;transform:scaleX(0.9807);">--</span>
<div style="position:absolute;left:1816px;top:1035.75px;width:71.6px;height:22px;border-radius:5px;background:#dde2e9;"></div>
<span class="t" id="t137" style="left:1823.36px;top:1037.80px;font-size:13px;line-height:18px;font-weight:400;color:#2c3845;letter-spacing:0.000px;transform:scaleX(0.9382);">sector:edo</span>
<div style="position:absolute;left:1969px;top:1032px;width:41.5px;height:30px;box-sizing:border-box;border:1px solid #d5dae2;border-radius:8px;background:#fff;"></div>
<svg style="position:absolute;left:1982px;top:1038.5px;" width="16" height="16" viewBox="0 0 24 24" fill="none" stroke="#1c2733" stroke-width="2.1" stroke-linecap="round" stroke-linejoin="round"><path d="M4 12h16M13 5l7 7-7 7"/></svg></section></main>
<div class="wm" aria-hidden="true">unit21$$961|unit21$$961|unit21$$961|unit21$$961|unit21$$961|unit21$$961|unit21$$961|unit21$$961|unit21$$961|unit21$$961|unit21$$961|unit21$$961|unit21$$961|unit21$$961|unit21$$961|unit21$$961|unit21$$961|unit21$$961|unit21$$961|<br>unit21$$961|unit21$$961|unit21$$961|unit21$$961|unit21$$961|unit21$$961|unit21$$961|unit21$$961|unit21$$961|unit21$$961|unit21$$961|unit21$$961|unit21$$961|unit21$$961|unit21$$961|unit21$$961|unit21$$961|unit21$$961|unit21$$961|<br>unit21$$961|unit21$$961|unit21$$961|unit21$$961|unit21$$961|unit21$$961|unit21$$961|unit21$$961|unit21$$961|unit21$$961|unit21$$961|unit21$$961|unit21$$961|unit21$$961|unit21$$961|unit21$$961|unit21$$961|unit21$$961|unit21$$961|<br>unit21$$961|unit21$$961|unit21$$961|unit21$$961|unit21$$961|unit21$$961|unit21$$961|unit21$$961|unit21$$961|unit21$$961|unit21$$961|unit21$$961|unit21$$961|unit21$$961|unit21$$961|unit21$$961|unit21$$961|unit21$$961|unit21$$961|<br>unit21$$961|unit21$$961|unit21$$961|unit21$$961|unit21$$961|unit21$$961|unit21$$961|unit21$$961|unit21$$961|unit21$$961|unit21$$961|unit21$$961|unit21$$961|unit21$$961|unit21$$961|unit21$$961|unit21$$961|unit21$$961|unit21$$961|<br>unit21$$961|unit21$$961|unit21$$961|unit21$$961|unit21$$961|unit21$$961|unit21$$961|unit21$$961|unit21$$961|unit21$$961|unit21$$961|unit21$$961|unit21$$961|unit21$$961|unit21$$961|unit21$$961|unit21$$961|unit21$$961|unit21$$961|<br>unit21$$961|unit21$$961|unit21$$961|unit21$$961|unit21$$961|unit21$$961|unit21$$961|unit21$$961|unit21$$961|unit21$$961|unit21$$961|unit21$$961|unit21$$961|unit21$$961|unit21$$961|unit21$$961|unit21$$961|unit21$$961|unit21$$961|<br>unit21$$961|unit21$$961|unit21$$961|unit21$$961|unit21$$961|unit21$$961|unit21$$961|unit21$$961|unit21$$961|unit21$$961|unit21$$961|unit21$$961|unit21$$961|unit21$$961|unit21$$961|unit21$$961|unit21$$961|unit21$$961|unit21$$961|<br>unit21$$961|unit21$$961|unit21$$961|unit21$$961|unit21$$961|unit21$$961|unit21$$961|unit21$$961|unit21$$961|unit21$$961|unit21$$961|unit21$$961|unit21$$961|unit21$$961|unit21$$961|unit21$$961|unit21$$961|unit21$$961|unit21$$961|<br>unit21$$961|unit21$$961|unit21$$961|unit21$$961|unit21$$961|unit21$$961|unit21$$961|unit21$$961|unit21$$961|unit21$$961|unit21$$961|unit21$$961|unit21$$961|unit21$$961|unit21$$961|unit21$$961|unit21$$961|unit21$$961|unit21$$961|<br>unit21$$961|unit21$$961|unit21$$961|unit21$$961|unit21$$961|unit21$$961|unit21$$961|unit21$$961|unit21$$961|unit21$$961|unit21$$961|unit21$$961|unit21$$961|unit21$$961|unit21$$961|unit21$$961|unit21$$961|unit21$$961|unit21$$961|<br>unit21$$961|unit21$$961|unit21$$961|unit21$$961|unit21$$961|unit21$$961|unit21$$961|unit21$$961|unit21$$961|unit21$$961|unit21$$961|unit21$$961|unit21$$961|unit21$$961|unit21$$961|unit21$$961|unit21$$961|unit21$$961|unit21$$961|<br>unit21$$961|unit21$$961|unit21$$961|unit21$$961|unit21$$961|unit21$$961|unit21$$961|unit21$$961|unit21$$961|unit21$$961|unit21$$961|unit21$$961|unit21$$961|unit21$$961|unit21$$961|unit21$$961|unit21$$961|unit21$$961|unit21$$961|<br>unit21$$961|unit21$$961|unit21$$961|unit21$$961|unit21$$961|unit21$$961|unit21$$961|unit21$$961|unit21$$961|unit21$$961|unit21$$961|unit21$$961|unit21$$961|unit21$$961|unit21$$961|unit21$$961|unit21$$961|unit21$$961|unit21$$961|<br>unit21$$961|unit21$$961|unit21$$961|unit21$$961|unit21$$961|unit21$$961|unit21$$961|unit21$$961|unit21$$961|unit21$$961|unit21$$961|unit21$$961|unit21$$961|unit21$$961|unit21$$961|unit21$$961|unit21$$961|unit21$$961|unit21$$961|<br>unit21$$961|unit21$$961|unit21$$961|unit21$$961|unit21$$961|unit21$$961|unit21$$961|unit21$$961|unit21$$961|unit21$$961|unit21$$961|unit21$$961|unit21$$961|unit21$$961|unit21$$961|unit21$$961|unit21$$961|unit21$$961|unit21$$961|<br>unit21$$961|unit21$$961|unit21$$961|unit21$$961|unit21$$961|unit21$$961|unit21$$961|unit21$$961|unit21$$961|unit21$$961|unit21$$961|unit21$$961|unit21$$961|unit21$$961|unit21$$961|unit21$$961|unit21$$961|unit21$$961|unit21$$961|<br>unit21$$961|unit21$$961|unit21$$961|unit21$$961|unit21$$961|unit21$$961|unit21$$961|unit21$$961|unit21$$961|unit21$$961|unit21$$961|unit21$$961|unit21$$961|unit21$$961|unit21$$961|unit21$$961|unit21$$961|unit21$$961|unit21$$961|<br>unit21$$961|unit21$$961|unit21$$961|unit21$$961|unit21$$961|unit21$$961|unit21$$961|unit21$$961|unit21$$961|unit21$$961|unit21$$961|unit21$$961|unit21$$961|unit21$$961|unit21$$961|unit21$$961|unit21$$961|unit21$$961|unit21$$961|<br>unit21$$961|unit21$$961|unit21$$961|unit21$$961|unit21$$961|unit21$$961|unit21$$961|unit21$$961|unit21$$961|unit21$$961|unit21$$961|unit21$$961|unit21$$961|unit21$$961|unit21$$961|unit21$$961|unit21$$961|unit21$$961|unit21$$961|<br>unit21$$961|unit21$$961|unit21$$961|unit21$$961|unit21$$961|unit21$$961|unit21$$961|unit21$$961|unit21$$961|unit21$$961|unit21$$961|unit21$$961|unit21$$961|unit21$$961|unit21$$961|unit21$$961|unit21$$961|unit21$$961|unit21$$961|<br>unit21$$961|unit21$$961|unit21$$961|unit21$$961|unit21$$961|unit21$$961|unit21$$961|unit21$$961|unit21$$961|unit21$$961|unit21$$961|unit21$$961|unit21$$961|unit21$$961|unit21$$961|unit21$$961|unit21$$961|unit21$$961|unit21$$961|<br>unit21$$961|unit21$$961|unit21$$961|unit21$$961|unit21$$961|unit21$$961|unit21$$961|unit21$$961|unit21$$961|unit21$$961|unit21$$961|unit21$$961|unit21$$961|unit21$$961|unit21$$961|unit21$$961|unit21$$961|unit21$$961|unit21$$961|<br>unit21$$961|unit21$$961|unit21$$961|unit21$$961|unit21$$961|unit21$$961|unit21$$961|unit21$$961|unit21$$961|unit21$$961|unit21$$961|unit21$$961|unit21$$961|unit21$$961|unit21$$961|unit21$$961|unit21$$961|unit21$$961|unit21$$961|<br>unit21$$961|unit21$$961|unit21$$961|unit21$$961|unit21$$961|unit21$$961|unit21$$961|unit21$$961|unit21$$961|unit21$$961|unit21$$961|unit21$$961|unit21$$961|unit21$$961|unit21$$961|unit21$$961|unit21$$961|unit21$$961|unit21$$961|<br>unit21$$961|unit21$$961|unit21$$961|unit21$$961|unit21$$961|unit21$$961|unit21$$961|unit21$$961|unit21$$961|unit21$$961|unit21$$961|unit21$$961|unit21$$961|unit21$$961|unit21$$961|unit21$$961|unit21$$961|unit21$$961|unit21$$961|<br>unit21$$961|unit21$$961|unit21$$961|unit21$$961|unit21$$961|unit21$$961|unit21$$961|unit21$$961|unit21$$961|unit21$$961|unit21$$961|unit21$$961|unit21$$961|unit21$$961|unit21$$961|unit21$$961|unit21$$961|unit21$$961|unit21$$961|<br>unit21$$961|unit21$$961|unit21$$961|unit21$$961|unit21$$961|unit21$$961|unit21$$961|unit21$$961|unit21$$961|unit21$$961|unit21$$961|unit21$$961|unit21$$961|unit21$$961|unit21$$961|unit21$$961|unit21$$961|unit21$$961|unit21$$961|<br>unit21$$961|unit21$$961|unit21$$961|unit21$$961|unit21$$961|unit21$$961|unit21$$961|unit21$$961|unit21$$961|unit21$$961|unit21$$961|unit21$$961|unit21$$961|unit21$$961|unit21$$961|unit21$$961|unit21$$961|unit21$$961|unit21$$961|<br>unit21$$961|unit21$$961|unit21$$961|unit21$$961|unit21$$961|unit21$$961|unit21$$961|unit21$$961|unit21$$961|unit21$$961|unit21$$961|unit21$$961|unit21$$961|unit21$$961|unit21$$961|unit21$$961|unit21$$961|unit21$$961|unit21$$961|<br>unit21$$961|unit21$$961|unit21$$961|unit21$$961|unit21$$961|unit21$$961|unit21$$961|unit21$$961|unit21$$961|unit21$$961|unit21$$961|unit21$$961|unit21$$961|unit21$$961|unit21$$961|unit21$$961|unit21$$961|unit21$$961|unit21$$961|<br>unit21$$961|unit21$$961|unit21$$961|unit21$$961|unit21$$961|unit21$$961|unit21$$961|unit21$$961|unit21$$961|unit21$$961|unit21$$961|unit21$$961|unit21$$961|unit21$$961|unit21$$961|unit21$$961|unit21$$961|unit21$$961|unit21$$961|<br>unit21$$961|unit21$$961|unit21$$961|unit21$$961|unit21$$961|unit21$$961|unit21$$961|unit21$$961|unit21$$961|unit21$$961|unit21$$961|unit21$$961|unit21$$961|unit21$$961|unit21$$961|unit21$$961|unit21$$961|unit21$$961|unit21$$961|<br>unit21$$961|unit21$$961|unit21$$961|unit21$$961|unit21$$961|unit21$$961|unit21$$961|unit21$$961|unit21$$961|unit21$$961|unit21$$961|unit21$$961|unit21$$961|unit21$$961|unit21$$961|unit21$$961|unit21$$961|unit21$$961|unit21$$961|<br>unit21$$961|unit21$$961|unit21$$961|unit21$$961|unit21$$961|unit21$$961|unit21$$961|unit21$$961|unit21$$961|unit21$$961|unit21$$961|unit21$$961|unit21$$961|unit21$$961|unit21$$961|unit21$$961|unit21$$961|unit21$$961|unit21$$961|<br>unit21$$961|unit21$$961|unit21$$961|unit21$$961|unit21$$961|unit21$$961|unit21$$961|unit21$$961|unit21$$961|unit21$$961|unit21$$961|unit21$$961|unit21$$961|unit21$$961|unit21$$961|unit21$$961|unit21$$961|unit21$$961|unit21$$961|<br>unit21$$961|unit21$$961|unit21$$961|unit21$$961|unit21$$961|unit21$$961|unit21$$961|unit21$$961|unit21$$961|unit21$$961|unit21$$961|unit21$$961|unit21$$961|unit21$$961|unit21$$961|unit21$$961|unit21$$961|unit21$$961|unit21$$961|<br>unit21$$961|unit21$$961|unit21$$961|unit21$$961|unit21$$961|unit21$$961|unit21$$961|unit21$$961|unit21$$961|unit21$$961|unit21$$961|unit21$$961|unit21$$961|unit21$$961|unit21$$961|unit21$$961|unit21$$961|unit21$$961|unit21$$961|<br>unit21$$961|unit21$$961|unit21$$961|unit21$$961|unit21$$961|unit21$$961|unit21$$961|unit21$$961|unit21$$961|unit21$$961|unit21$$961|unit21$$961|unit21$$961|unit21$$961|unit21$$961|unit21$$961|unit21$$961|unit21$$961|unit21$$961|</div>
<div id="browser-chrome"><div style="position:absolute;left:0px;top:0px;width:2079px;height:41px;background:#dcdfe4;"></div>
<div style="position:absolute;left:0px;top:0px;width:2079px;height:1.5px;background:#e8eaed;"></div>
<div style="position:absolute;left:20px;top:15px;width:12px;height:12px;border-radius:50%;background:#fe5f57;box-shadow:inset 0 0 0 .5px #e0443e;"></div>
<div style="position:absolute;left:40px;top:15px;width:12px;height:12px;border-radius:50%;background:#febc2e;box-shadow:inset 0 0 0 .5px #dea123;"></div>
<div style="position:absolute;left:60px;top:15px;width:12px;height:12px;border-radius:50%;background:#28c840;box-shadow:inset 0 0 0 .5px #1aab29;"></div>
<div style="position:absolute;left:92px;top:8px;width:240px;height:33px;background:#fff;border-radius:8px 8px 0 0;"></div>
<svg style="position:absolute;left:84px;top:33px" width="8" height="8" viewBox="0 0 8 8"><path d="M8 0v8H0a8 8 0 0 0 8-8z" fill="#fff"/></svg>
<svg style="position:absolute;left:332px;top:33px" width="8" height="8" viewBox="0 0 8 8"><path d="M0 0v8h8a8 8 0 0 1-8-8z" fill="#fff"/></svg>
<svg style="position:absolute;left:100.97px;top:15.5px;" width="22.85" height="18.28" viewBox="0 0 50 40" fill="none" stroke="#f4524b" stroke-width="3.4" stroke-linecap="butt" stroke-linejoin="round"><path d="M8.30 36.00L11.74 27.00"/><path d="M12.16 25.90L15.87 16.20"/><circle cx="17.79" cy="11.20" r="1.35" fill="#f4524b" stroke="none"/><circle cx="19.32" cy="7.20" r="1.35" fill="#f4524b" stroke="none"/><path d="M18.10 36.00L21.54 27.00"/><circle cx="23.88" cy="20.90" r="1.25" fill="#f4524b" stroke="none"/><path d="M26.52 14.00L29.80 5.40"/><path d="M28.60 36.00L32.04 27.00"/><path d="M32.46 25.90L36.17 16.20"/><path d="M37.02 14.00L40.30 5.40"/></svg>
<span class="t" id="t138" style="left:127.43px;top:15.50px;font-size:13px;line-height:18px;font-weight:400;color:#202124;letter-spacing:0.000px;transform:scaleX(0.9674);">Unit21 - Queued Cases</span>
<svg style="position:absolute;left:311.5px;top:19.5px;" width="9" height="9" viewBox="0 0 9 9" fill="none" stroke="#3c4043" stroke-width="1.4" stroke-linecap="round" stroke-linejoin="round"><path d="M1 1l7 7M8 1L1 8"/></svg>
<svg style="position:absolute;left:347.3px;top:18.3px;" width="12" height="12" viewBox="0 0 12 12" fill="none" stroke="#34373b" stroke-width="1.9" stroke-linecap="butt" stroke-linejoin="round"><path d="M6 0.700v10.600M0.700 6h10.600"/></svg>
<svg style="position:absolute;left:2050px;top:20.5px;" width="12" height="8" viewBox="0 0 12 8" fill="none" stroke="#3c4043" stroke-width="1.7" stroke-linecap="round" stroke-linejoin="round"><path d="M1.500 1.500l4.500 4.500 4.500-4.500"/></svg>
<div style="position:absolute;left:0px;top:41px;width:2079px;height:37px;background:#fff;"></div>
<div style="position:absolute;left:0px;top:78px;width:2079px;height:1px;background:#d5d8dc;"></div>
<svg style="position:absolute;left:13px;top:52px;" width="16" height="16" viewBox="0 0 16 16" fill="none" stroke="#4a4d51" stroke-width="1.7" stroke-linecap="round" stroke-linejoin="round"><path d="M14.500 8H2.200M8 2.200L2.200 8 8 13.800"/></svg>
<svg style="position:absolute;left:45px;top:52px;" width="16" height="16" viewBox="0 0 16 16" fill="none" stroke="#b4b6ba" stroke-width="1.7" stroke-linecap="round" stroke-linejoin="round"><path d="M1.500 8h12.300M8 2.200L13.800 8 8 13.800"/></svg>
<svg style="position:absolute;left:77px;top:52px;" width="16" height="16" viewBox="0 0 16 16" fill="none" stroke="#4a4d51" stroke-width="1.7" stroke-linecap="round" stroke-linejoin="round"><path d="M13.600 8.300a5.700 5.700 0 1 1-1.700-4.300"/><path d="M14.200 1.200v4.300H9.900z" fill="#4a4d51" stroke-width="0.600"/></svg>
<div style="position:absolute;left:106px;top:45px;width:1645px;height:30px;box-sizing:border-box;border:2px solid #1a56c6;border-radius:15px;background:#fff;"></div>
<svg style="position:absolute;left:120.5px;top:53.5px;" width="9" height="12" viewBox="0 0 9 12" fill="none" stroke="#54575c" stroke-width="1.4" stroke-linecap="round" stroke-linejoin="round"><rect x="0.300" y="5" width="8.400" height="6.600" rx="1.200" fill="#54575c" stroke="none"/><path d="M2.200 5V3.400a2.300 2.300 0 0 1 4.600 0V5" stroke-width="1.400"/></svg>
<span class="t" id="t139" style="left:140.59px;top:49.50px;font-size:14px;line-height:20px;font-weight:400;color:#202124;letter-spacing:0.000px;transform:scaleX(1.0510);">sandbox1.unit21.com</span>
<span class="t" id="t140" style="left:279.90px;top:49.50px;font-size:14px;line-height:20px;font-weight:400;color:#5f6368;letter-spacing:0.031px;transform:scaleX(1.0600);">/cases/queued-cases</span>
<svg style="position:absolute;left:1693.5px;top:53px;" width="12" height="14" viewBox="0 0 12 14" fill="none" stroke="#4a4d51" stroke-width="1.3" stroke-linecap="round" stroke-linejoin="round"><path d="M3.700 4.800H1.200v8.300h9.600V4.800H8.300M6 9V1.200M3.500 3.500L6 1l2.500 2.500"/></svg>
<svg style="position:absolute;left:1724.5px;top:52.5px;" width="15" height="15" viewBox="0 0 15 15" fill="none" stroke="#4a4d51" stroke-width="1.3" stroke-linecap="round" stroke-linejoin="round"><path d="M7.500 1.300l1.900 4.200 4.500.5-3.400 3 1 4.500-4-2.400-4 2.400 1-4.500-3.400-3 4.500-.5z"/></svg>
<svg style="position:absolute;left:1763px;top:51px;" width="18" height="18" viewBox="0 0 18 18" fill="none" stroke="#5a6978" stroke-width="2" stroke-linecap="round" stroke-linejoin="round"><circle cx="8.500" cy="8.500" r="7.300" stroke="#c9ccd1" stroke-width="1.200"/><path d="M4 12.500a6 6 0 1 1 9.500-.5" stroke="#1a73e8" stroke-width="1.700"/><path d="M8.300 5.500v5" stroke="#30343a" stroke-width="1.600"/><rect x="10.500" y="12" width="6" height="5" rx="1" fill="#202124" stroke="none"/><path d="M11.800 12v-1.200a1.700 1.700 0 0 1 3.400 0V12" stroke="#202124" stroke-width="1.100"/></svg>
<svg style="position:absolute;left:1795px;top:51px;" width="18" height="18" viewBox="0 0 18 18" fill="none" stroke="#202124" stroke-width="1.25" stroke-linecap="butt" stroke-linejoin="round"><path d="M9 9L17.00 9.00"/><path d="M9 9L16.39 12.06"/><path d="M9 9L14.66 14.66"/><path d="M9 9L12.06 16.39"/><path d="M9 9L9.00 17.00"/><path d="M9 9L5.94 16.39"/><path d="M9 9L3.34 14.66"/><path d="M9 9L1.61 12.06"/><path d="M9 9L1.00 9.00"/><path d="M9 9L1.61 5.94"/><path d="M9 9L3.34 3.34"/><path d="M9 9L5.94 1.61"/><path d="M9 9L9.00 1.00"/><path d="M9 9L12.06 1.61"/><path d="M9 9L14.66 3.34"/><path d="M9 9L16.39 5.94"/><circle cx="9" cy="9" r="4.200" fill="#fff" stroke="#202124" stroke-width="1.700"/></svg>
<div style="position:absolute;left:1828px;top:52px;width:16px;height:16px;background:#868686;border-radius:3px;"></div>
<svg style="position:absolute;left:1830.5px;top:54.5px;" width="11" height="11" viewBox="0 0 11 11" fill="none" stroke="#e6e6e6" stroke-width="1" stroke-linecap="round" stroke-linejoin="round"><path d="M1.500 4.500L5.500 1l4 3.500v5h-8zM3.500 6l2 1.700L8 5"/></svg>
<div style="position:absolute;left:1860px;top:52px;width:16px;height:16px;background:#2a8cd9;"></div>
<svg style="position:absolute;left:1860px;top:52px;" width="16" height="16" viewBox="0 0 16 16" fill="none" stroke="#fff" stroke-width="2" stroke-linecap="round" stroke-linejoin="round"><path d="M8 2.500v8M4.300 7.500L8 11.200l3.700-3.700" stroke-width="2.400"/><path d="M4 14h8" stroke-width="1.300"/></svg>
<svg style="position:absolute;left:1892px;top:52px;" width="16" height="16" viewBox="0 0 16 16" fill="none" stroke="#5a6978" stroke-width="2" stroke-linecap="round" stroke-linejoin="round"><path d="M6.200 1.500a1.600 1.600 0 0 1 3.200 0V3h3.300v3.300h1.200a1.700 1.700 0 0 1 0 3.400h-1.200V14H9.200v-1.300a1.500 1.500 0 0 0-3 0V14H2V9.700h1.300a1.500 1.500 0 0 0 0-3H2V3h4.200z" fill="#4a4d51" stroke="none"/></svg>
<div style="position:absolute;left:1925px;top:53px;width:14px;height:14px;box-sizing:border-box;border:2px solid #4a4d51;border-right-width:7px;border-radius:1px;"></div>
<svg style="position:absolute;left:1953px;top:49px;" width="22" height="22" viewBox="0 0 22 22" fill="none" stroke="none" stroke-width="0" stroke-linecap="round" stroke-linejoin="round"><defs><clipPath id="avc"><circle cx="11" cy="11" r="11"/></clipPath><radialGradient id="avg" cx="0.75" cy="0.35" r="0.8"><stop offset="0" stop-color="#cf8f74"/><stop offset="0.55" stop-color="#bb5a40"/><stop offset="1" stop-color="#a8452f"/></radialGradient></defs><g clip-path="url(#avc)" stroke="none"><rect width="22" height="22" fill="url(#avg)"/><ellipse cx="8.600" cy="6" rx="3.300" ry="3.200" fill="#35221c"/><ellipse cx="11.300" cy="9.300" rx="2.900" ry="4.300" fill="#e6c3b0"/><path d="M7.600 4.500c1.500-1.300 4-1.300 5.300.3-1.800-.2-3 .5-3.600 2.400-.3 1.500-.3 2.600-.2 3.800-1.400-1-2.300-3.800-1.500-6.500z" fill="#35221c"/><path d="M2 20.500C4 17 7 14.500 9.600 13.600l2 2.600 1.700-1.700c1.500.9 2.200 3 2.400 7.500H2z" fill="#1b1717"/><path d="M10.800 16.400l.9 3.600.8-4.300z" fill="#efe6e0"/></g></svg>
<div style="position:absolute;left:1982px;top:46px;width:88px;height:28px;box-sizing:border-box;border:1px solid #cf2e27;border-radius:14px;background:#f9e9e8;"></div>
<span class="t" id="t141" style="left:1994.41px;top:50.90px;font-size:13.6px;line-height:19px;font-weight:400;color:#c5221f;letter-spacing:0.000px;transform:scaleX(1.0358);-webkit-text-stroke:0.250px #c5221f;">Update</span>
<div style="position:absolute;left:2054.9px;top:54px;width:3px;height:3px;border-radius:50%;background:#c5221f;"></div>
<div style="position:absolute;left:2054.9px;top:58.9px;width:3px;height:3px;border-radius:50%;background:#c5221f;"></div>
<div style="position:absolute;left:2054.9px;top:63.9px;width:3px;height:3px;border-radius:50%;background:#c5221f;"></div></div>
<div style="position:absolute;left:2077px;top:0;width:1px;height:1075px;background:#f4f4f4"></div>
<div style="position:absolute;left:2078px;top:0;width:1px;height:1075px;background:#a9a9a9"></div>
<div style="position:absolute;left:0;top:1073px;width:2079px;height:1px;background:#f6f6f6"></div>
<div style="position:absolute;left:0;top:1074px;width:2079px;height:1px;background:#8e8e8e"></div>
<svg style="position:absolute;left:0px;top:0px;transform:none" width="11" height="11" viewBox="0 0 11 11"><path d="M0 0h11A11 11 0 0 0 0 11z" fill="#f4f4f4"/><path d="M10.500 0A10.500 10.500 0 0 0 0 10.500" fill="none" stroke="#c2c2c2" stroke-width="1"/></svg>
<svg style="position:absolute;left:2068px;top:0px;transform:scaleX(-1)" width="11" height="11" viewBox="0 0 11 11"><path d="M0 0h11A11 11 0 0 0 0 11z" fill="#f4f4f4"/><path d="M10.500 0A10.500 10.500 0 0 0 0 10.500" fill="none" stroke="#c2c2c2" stroke-width="1"/></svg>
<svg style="position:absolute;left:0px;top:1064px;transform:scaleY(-1)" width="11" height="11" viewBox="0 0 11 11"><path d="M0 0h11A11 11 0 0 0 0 11z" fill="#d6d6d6"/><path d="M10.500 0A10.500 10.500 0 0 0 0 10.500" fill="none" stroke="#8e8e8e" stroke-width="1"/></svg>
<svg style="position:absolute;left:2068px;top:1064px;transform:scale(-1,-1)" width="11" height="11" viewBox="0 0 11 11"><path d="M0 0h11A11 11 0 0 0 0 11z" fill="#d6d6d6"/><path d="M10.500 0A10.500 10.500 0 0 0 0 10.500" fill="none" stroke="#8e8e8e" stroke-width="1"/></svg>
</div>
</body></html>
